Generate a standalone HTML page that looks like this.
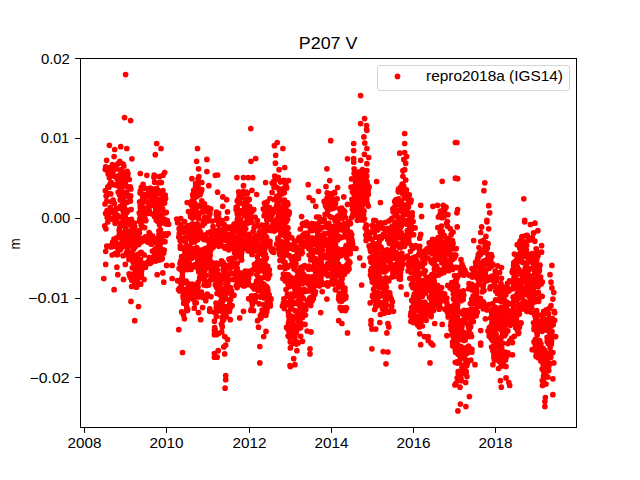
<!DOCTYPE html><html><head><meta charset="utf-8"><style>html,body{margin:0;padding:0;background:#fff;width:640px;height:480px;overflow:hidden}svg{display:block}</style></head><body><svg width="640" height="480" viewBox="0 0 640 480"><path fill="none" stroke="#f00" stroke-width="5.7" stroke-linecap="round" d="M352.4 192.0h0M245.7 272.5h0M295.8 332.9h0M381.7 267.5h0M283.5 203.8h0M515.0 282.2h0M319.6 235.0h0M265.7 258.1h0M146.1 263.4h0M440.6 296.6h0M302.7 246.6h0M360.7 219.9h0M445.4 259.0h0M513.2 302.4h0M191.8 242.4h0M105.3 169.4h0M423.6 310.0h0M222.7 320.7h0M331.9 196.8h0M234.6 246.4h0M527.2 235.4h0M456.8 361.9h0M221.5 245.7h0M363.2 202.8h0M532.4 237.8h0M293.9 249.3h0M321.1 272.9h0M315.0 258.3h0M537.3 293.2h0M347.3 271.3h0M275.5 179.8h0M216.3 214.9h0M517.8 270.1h0M115.5 168.1h0M383.8 295.0h0M477.7 258.1h0M369.1 186.9h0M137.6 284.3h0M299.5 297.6h0M392.5 235.2h0M156.1 215.7h0M376.8 299.3h0M145.5 188.4h0M471.9 316.8h0M549.3 328.5h0M197.5 284.3h0M248.5 213.6h0M433.8 253.7h0M184.2 237.9h0M528.4 240.4h0M456.6 293.4h0M251.9 248.8h0M193.3 201.0h0M398.2 226.6h0M421.1 292.3h0M436.9 287.4h0M394.2 207.5h0M297.2 312.3h0M321.3 262.5h0M237.0 257.1h0M239.5 232.1h0M496.4 288.4h0M519.1 260.6h0M195.1 216.5h0M287.0 241.6h0M381.1 304.7h0M492.9 277.5h0M386.8 304.9h0M457.1 346.1h0M519.8 247.9h0M286.5 221.2h0M163.8 220.7h0M397.4 222.4h0M438.4 259.1h0M524.3 301.0h0M387.8 239.8h0M291.5 319.5h0M513.4 319.2h0M152.6 205.5h0M547.2 340.8h0M297.7 288.1h0M304.6 243.7h0M221.2 304.1h0M319.5 252.8h0M236.3 207.0h0M209.3 263.1h0M452.4 332.6h0M463.9 271.0h0M295.3 342.0h0M362.3 197.3h0M335.0 220.6h0M372.2 269.4h0M343.0 307.9h0M419.5 250.0h0M398.9 277.4h0M375.7 300.9h0M308.2 284.1h0M351.9 199.3h0M527.2 273.0h0M245.2 202.1h0M248.7 298.7h0M127.9 173.3h0M265.7 287.9h0M448.2 317.0h0M497.3 340.3h0M534.0 329.4h0M396.6 222.5h0M402.1 256.4h0M434.7 302.6h0M329.9 216.6h0M467.5 363.6h0M494.5 329.0h0M332.3 241.2h0M114.5 218.5h0M329.9 259.6h0M341.4 272.4h0M550.1 320.0h0M514.1 280.7h0M524.8 273.1h0M319.8 268.2h0M225.7 239.9h0M264.2 258.9h0M223.6 314.2h0M454.7 293.3h0M122.4 209.0h0M332.5 275.6h0M336.9 260.0h0M460.3 291.7h0M152.7 236.0h0M449.1 241.4h0M519.5 324.2h0M362.1 189.8h0M514.6 319.5h0M280.4 207.9h0M217.6 280.8h0M396.7 255.4h0M441.8 248.7h0M343.4 225.0h0M273.9 182.8h0M116.3 219.0h0M278.6 248.9h0M423.4 316.7h0M366.7 176.2h0M130.8 274.5h0M419.2 304.8h0M531.3 307.7h0M301.9 304.4h0M382.7 255.5h0M380.9 226.4h0M333.0 253.4h0M352.6 243.6h0M134.7 267.8h0M447.3 305.1h0M481.0 271.6h0M424.6 314.7h0M296.0 278.5h0M531.1 239.6h0M492.4 346.8h0M492.7 264.0h0M545.6 328.5h0M158.7 182.8h0M289.9 265.7h0M434.2 281.2h0M254.4 264.5h0M442.1 270.8h0M449.0 247.4h0M441.6 287.6h0M199.6 271.2h0M417.6 316.3h0M531.9 278.4h0M494.4 353.3h0M195.8 214.7h0M243.9 285.6h0M291.6 308.2h0M377.3 298.7h0M408.5 265.5h0M271.2 250.1h0M108.2 218.5h0M206.8 219.2h0M131.4 224.6h0M113.1 219.6h0M288.9 304.6h0M249.7 206.7h0M526.0 265.1h0M179.3 233.3h0M516.4 272.4h0M140.2 270.0h0M187.5 269.6h0M120.4 244.6h0M280.8 233.9h0M456.4 338.2h0M502.1 355.7h0M159.8 253.8h0M198.7 183.3h0M191.2 224.8h0M513.6 265.9h0M345.1 233.8h0M196.4 190.5h0M298.7 277.9h0M342.4 229.0h0M476.7 304.6h0M292.5 283.4h0M246.1 242.1h0M501.9 321.3h0M287.0 215.7h0M360.3 206.4h0M249.4 234.3h0M401.3 232.8h0M274.0 199.4h0M221.8 279.5h0M444.6 293.9h0M185.5 242.0h0M361.9 206.9h0M358.3 173.7h0M194.7 242.0h0M370.9 262.1h0M123.3 211.9h0M139.1 233.4h0M404.9 212.7h0M502.0 293.4h0M439.0 243.4h0M203.3 204.4h0M222.1 302.5h0M336.0 235.4h0M544.2 354.3h0M262.2 310.1h0M513.1 319.2h0M189.3 247.8h0M340.2 273.0h0M184.5 250.6h0M197.3 223.8h0M457.8 325.8h0M328.2 193.4h0M286.9 274.7h0M419.5 281.8h0M377.3 267.4h0M302.7 242.2h0M340.8 237.7h0M412.9 300.0h0M422.3 303.7h0M326.9 283.4h0M399.9 233.7h0M384.2 285.1h0M293.4 245.4h0M182.2 268.4h0M136.5 237.4h0M341.3 217.5h0M315.3 266.7h0M285.6 241.5h0M279.9 216.9h0M362.9 210.8h0M189.1 246.0h0M228.1 239.5h0M227.6 290.8h0M487.4 280.6h0M484.3 260.9h0M218.5 282.5h0M282.6 212.0h0M406.9 205.1h0M374.2 243.9h0M486.0 264.0h0M131.0 223.4h0M220.2 283.6h0M331.3 204.5h0M213.2 247.3h0M126.6 179.5h0M480.7 241.6h0M469.5 336.6h0M156.2 200.3h0M198.9 176.6h0M200.1 194.7h0M355.5 214.5h0M417.1 307.7h0M285.0 262.4h0M200.0 231.4h0M446.0 300.9h0M431.1 261.7h0M535.3 345.3h0M188.2 285.8h0M509.7 303.9h0M498.8 322.9h0M155.7 210.4h0M283.4 214.0h0M542.3 281.9h0M198.0 179.1h0M316.8 250.6h0M422.3 255.1h0M359.2 178.6h0M210.2 244.9h0M292.6 260.8h0M222.0 220.7h0M362.9 219.9h0M322.3 227.6h0M505.4 354.7h0M435.7 295.1h0M458.2 276.1h0M288.6 312.0h0M280.6 250.0h0M450.0 312.7h0M418.2 289.2h0M499.8 360.4h0M153.9 177.2h0M125.2 216.9h0M448.9 266.6h0M367.3 203.7h0M241.3 254.2h0M203.0 297.4h0M497.8 326.1h0M335.4 263.4h0M521.1 297.6h0M199.4 266.4h0M222.8 300.9h0M321.7 252.6h0M335.5 251.3h0M192.7 194.5h0M294.3 341.9h0M168.2 233.6h0M536.6 319.8h0M316.1 228.6h0M281.8 220.6h0M141.7 270.4h0M202.7 295.8h0M478.6 256.8h0M181.1 270.1h0M505.2 305.2h0M318.6 247.1h0M395.9 243.1h0M511.8 314.4h0M527.8 236.6h0M297.6 318.4h0M432.5 283.0h0M107.8 186.9h0M458.1 363.1h0M352.2 240.6h0M227.9 245.8h0M187.8 288.5h0M125.7 178.1h0M228.7 249.8h0M158.9 257.6h0M408.9 215.1h0M483.4 302.8h0M466.2 372.2h0M550.2 363.7h0M236.7 267.5h0M433.5 239.6h0M282.9 260.9h0M519.0 269.5h0M542.7 362.5h0M198.9 206.3h0M463.7 275.2h0M337.9 255.3h0M455.3 350.5h0M271.0 298.9h0M206.1 275.3h0M137.9 256.7h0M532.4 280.1h0M154.1 189.2h0M338.8 287.1h0M441.3 271.9h0M253.2 231.7h0M517.7 325.1h0M532.7 283.0h0M334.7 244.7h0M248.7 248.8h0M374.7 309.5h0M450.5 264.0h0M452.6 345.8h0M124.8 232.1h0M500.4 294.4h0M342.6 271.9h0M229.6 246.2h0M512.1 319.3h0M266.6 237.1h0M180.0 231.1h0M457.2 377.8h0M408.8 258.6h0M388.6 296.2h0M375.2 276.1h0M442.6 300.5h0M348.7 250.2h0M433.8 278.2h0M348.1 262.4h0M438.5 269.9h0M264.9 248.7h0M120.1 234.7h0M448.1 267.7h0M542.1 331.3h0M119.3 234.5h0M454.5 275.5h0M350.1 250.6h0M273.0 249.2h0M377.2 226.3h0M313.7 240.7h0M176.7 219.0h0M159.3 213.7h0M419.7 303.4h0M332.5 230.3h0M515.5 320.0h0M266.1 267.2h0M453.2 330.5h0M394.8 208.4h0M339.4 297.4h0M184.3 231.6h0M150.1 234.5h0M139.6 201.8h0M217.0 275.0h0M121.8 179.9h0M313.3 227.5h0M128.2 255.6h0M496.6 329.0h0M540.0 279.0h0M141.4 274.5h0M416.5 274.4h0M517.6 330.8h0M264.6 242.3h0M262.1 266.3h0M253.6 310.6h0M279.2 228.9h0M361.7 200.5h0M105.0 204.0h0M320.2 219.3h0M351.0 187.1h0M288.6 336.2h0M351.6 178.9h0M256.6 285.9h0M334.6 268.5h0M216.4 316.5h0M288.1 335.8h0M537.8 300.0h0M290.6 316.0h0M407.5 256.2h0M220.0 286.6h0M317.8 268.7h0M358.1 216.9h0M303.2 223.3h0M481.2 265.7h0M489.1 305.0h0M421.7 302.7h0M346.6 257.6h0M346.4 245.3h0M312.5 283.7h0M153.3 257.2h0M522.5 271.8h0M198.2 282.2h0M258.5 285.4h0M375.2 300.1h0M486.7 260.6h0M378.9 278.5h0M539.2 315.0h0M285.7 233.1h0M514.3 300.8h0M277.9 244.7h0M535.6 348.3h0M266.9 299.3h0M327.0 273.8h0M484.0 290.5h0M378.3 265.8h0M198.8 228.8h0M284.5 200.0h0M441.5 226.0h0M441.4 234.6h0M432.0 248.9h0M366.2 224.8h0M334.2 218.1h0M372.5 296.6h0M313.7 259.1h0M440.3 239.0h0M375.4 277.7h0M145.4 265.2h0M125.1 196.2h0M441.4 214.4h0M300.3 307.1h0M527.0 308.0h0M503.0 293.9h0M227.9 282.6h0M264.3 242.3h0M311.5 269.0h0M161.7 233.6h0M147.7 239.2h0M107.0 210.5h0M397.5 259.0h0M254.3 300.9h0M534.2 327.3h0M256.6 285.3h0M298.3 321.0h0M206.9 240.0h0M330.8 241.6h0M239.8 233.6h0M291.1 327.6h0M264.0 286.4h0M402.7 244.6h0M257.8 243.5h0M249.9 209.2h0M129.9 231.0h0M279.2 223.9h0M476.3 299.7h0M203.3 210.1h0M288.8 214.3h0M340.3 308.5h0M502.2 366.0h0M424.8 309.2h0M437.6 259.2h0M534.7 273.4h0M216.0 303.1h0M126.2 180.2h0M272.1 183.1h0M184.7 297.6h0M108.2 215.3h0M152.5 189.1h0M301.1 269.0h0M351.5 238.1h0M234.1 224.2h0M317.1 226.7h0M122.2 177.7h0M370.7 270.7h0M401.4 255.5h0M346.6 308.1h0M185.0 300.9h0M292.9 327.5h0M319.3 222.3h0M260.1 318.6h0M397.3 231.5h0M195.1 288.6h0M385.4 309.1h0M488.9 304.7h0M185.0 252.4h0M232.1 305.5h0M357.9 199.9h0M238.8 251.2h0M324.3 221.8h0M237.8 252.6h0M387.9 279.7h0M375.6 278.3h0M133.2 273.9h0M155.5 196.9h0M340.0 293.3h0M123.1 232.7h0M445.6 247.1h0M358.0 175.3h0M333.7 240.5h0M427.6 288.9h0M287.0 244.3h0M145.2 196.3h0M545.8 374.5h0M464.1 310.3h0M204.5 217.6h0M455.8 350.7h0M114.0 212.8h0M413.9 295.8h0M192.8 252.3h0M465.3 317.6h0M141.5 241.8h0M118.6 208.3h0M463.3 271.9h0M371.5 268.4h0M124.6 237.5h0M158.4 204.6h0M495.6 299.8h0M288.9 282.1h0M376.4 283.0h0M296.4 311.0h0M294.1 269.0h0M412.9 306.7h0M503.6 364.9h0M159.5 176.7h0M373.6 289.2h0M301.5 244.1h0M215.7 272.3h0M485.2 274.3h0M493.6 332.1h0M188.0 251.2h0M124.5 209.2h0M305.8 309.6h0M400.4 218.9h0M323.3 268.3h0M460.5 312.0h0M259.1 232.6h0M302.5 316.9h0M306.6 277.3h0M544.3 383.1h0M418.3 320.4h0M266.3 306.5h0M460.9 380.5h0M119.7 227.4h0M433.9 274.4h0M219.5 230.7h0M483.7 302.3h0M433.4 310.4h0M544.6 356.5h0M404.2 188.3h0M248.5 248.7h0M180.4 248.2h0M431.1 316.6h0M485.1 245.9h0M537.6 331.3h0M489.2 268.2h0M260.8 282.7h0M453.8 337.8h0M202.4 264.5h0M324.7 255.6h0M536.7 310.7h0M184.9 227.5h0M409.8 278.3h0M317.2 251.9h0M223.6 278.0h0M238.1 239.1h0M423.1 280.9h0M448.5 238.7h0M168.6 224.2h0M302.3 316.5h0M300.6 238.1h0M471.3 303.0h0M425.2 313.2h0M240.2 240.4h0M345.2 250.1h0M462.7 365.6h0M468.6 288.7h0M301.7 283.7h0M297.3 252.9h0M136.3 287.2h0M191.3 267.0h0M237.6 218.0h0M448.7 270.7h0M186.8 255.5h0M504.1 287.3h0M305.7 266.6h0M337.6 268.1h0M237.4 263.1h0M547.7 377.1h0M185.6 282.2h0M469.0 283.7h0M180.3 231.5h0M116.5 214.5h0M432.9 292.7h0M474.1 271.1h0M485.4 246.7h0M524.8 279.9h0M144.1 194.6h0M221.3 278.8h0M453.4 284.7h0M429.7 282.2h0M301.6 295.5h0M189.7 235.6h0M390.5 251.4h0M253.7 243.1h0M386.9 270.0h0M222.9 296.0h0M163.6 200.8h0M350.3 253.7h0M437.6 285.3h0M205.0 260.7h0M206.4 285.5h0M117.2 254.7h0M193.6 202.0h0M514.6 296.4h0M500.8 307.6h0M123.6 234.4h0M154.6 182.2h0M454.9 385.0h0M532.6 292.4h0M245.0 208.2h0M254.0 288.8h0M491.7 325.3h0M364.8 176.2h0M373.6 230.0h0M244.3 215.7h0M147.9 261.9h0M223.9 224.5h0M122.2 205.2h0M333.4 227.4h0M329.4 265.6h0M542.8 322.7h0M327.7 263.7h0M309.1 278.7h0M342.2 229.9h0M111.0 184.8h0M257.2 262.0h0M222.1 317.4h0M389.6 256.7h0M441.8 213.3h0M448.5 316.4h0M398.2 191.3h0M501.5 353.9h0M163.0 175.2h0M348.5 224.5h0M147.1 208.2h0M108.9 167.8h0M332.4 279.8h0M536.7 346.2h0M356.3 207.2h0M162.9 195.3h0M475.8 310.8h0M474.5 290.9h0M181.6 240.3h0M106.7 169.9h0M320.0 229.3h0M317.6 234.0h0M105.9 228.8h0M428.8 277.6h0M543.5 381.4h0M110.3 194.0h0M462.1 273.3h0M460.4 272.9h0M536.7 251.1h0M401.4 206.2h0M475.9 290.9h0M189.2 237.3h0M360.6 176.8h0M127.2 245.2h0M264.7 272.2h0M465.2 273.7h0M312.2 267.9h0M336.2 249.1h0M256.3 244.3h0M517.1 293.8h0M518.2 257.0h0M116.1 168.9h0M448.6 249.3h0M267.9 290.6h0M461.1 338.6h0M332.0 281.1h0M391.9 258.6h0M513.4 305.3h0M400.7 261.4h0M290.1 335.6h0M522.2 262.0h0M489.0 259.2h0M203.0 274.6h0M539.7 347.1h0M534.5 279.8h0M472.7 321.6h0M282.4 306.1h0M197.6 239.8h0M129.0 259.4h0M239.7 237.5h0M140.1 214.9h0M114.8 176.3h0M344.3 228.3h0M203.5 223.1h0M226.2 240.4h0M512.2 272.2h0M285.3 266.8h0M390.4 298.8h0M193.1 239.5h0M344.7 211.4h0M312.0 239.4h0M287.5 294.2h0M413.4 322.6h0M438.7 275.0h0M377.3 256.7h0M350.0 233.2h0M534.6 286.7h0M407.1 209.4h0M333.4 200.5h0M521.7 253.5h0M185.0 255.4h0M331.6 264.4h0M291.2 258.2h0M396.1 199.7h0M200.5 252.3h0M527.9 291.0h0M391.8 253.7h0M362.4 216.4h0M205.7 275.4h0M460.6 333.1h0M535.5 271.0h0M220.7 241.1h0M420.2 264.1h0M546.2 330.1h0M321.5 281.9h0M230.3 247.6h0M364.8 188.8h0M450.0 287.8h0M224.2 267.8h0M242.6 245.0h0M324.1 201.4h0M231.2 266.4h0M185.1 227.6h0M160.7 238.0h0M217.9 273.9h0M184.9 247.7h0M371.4 276.1h0M278.0 228.8h0M470.4 303.5h0M366.1 240.4h0M229.7 241.9h0M378.7 224.6h0M477.4 312.0h0M433.4 277.8h0M397.3 258.4h0M440.7 237.3h0M397.5 266.9h0M335.6 282.2h0M337.3 250.5h0M538.4 292.4h0M130.6 252.9h0M164.8 219.6h0M491.9 332.1h0M284.1 217.6h0M423.1 306.5h0M110.9 182.6h0M543.6 375.5h0M513.7 279.1h0M279.4 241.4h0M380.1 255.6h0M226.6 236.4h0M513.9 269.4h0M188.2 296.4h0M320.4 260.6h0M493.5 285.6h0M153.2 191.9h0M521.8 236.9h0M442.9 247.9h0M421.4 321.0h0M378.8 275.4h0M519.9 280.5h0M249.1 199.0h0M415.3 301.3h0M293.3 343.4h0M472.0 268.7h0M417.6 305.8h0M510.7 281.2h0M386.9 252.5h0M148.8 240.7h0M378.5 257.9h0M263.6 226.3h0M120.2 199.9h0M203.1 271.6h0M258.5 226.1h0M160.7 205.7h0M138.9 274.7h0M142.7 198.3h0M310.8 230.5h0M302.1 297.0h0M180.6 261.4h0M343.4 212.1h0M433.2 301.4h0M408.3 200.3h0M159.0 234.5h0M396.9 258.2h0M184.0 262.1h0M120.4 206.3h0M424.0 273.1h0M471.8 284.4h0M284.5 243.5h0M535.6 320.9h0M278.2 177.4h0M326.7 265.5h0M431.1 311.2h0M483.2 308.7h0M340.4 254.4h0M431.1 314.9h0M246.3 192.0h0M489.2 335.9h0M136.7 259.7h0M195.8 249.1h0M335.8 280.7h0M229.7 228.7h0M478.6 306.3h0M137.3 269.5h0M309.6 246.7h0M192.8 249.0h0M394.8 224.3h0M243.2 191.7h0M502.0 301.3h0M154.2 175.0h0M426.3 251.9h0M507.8 330.9h0M248.1 250.8h0M458.2 299.4h0M298.2 281.4h0M525.7 235.6h0M338.5 264.1h0M376.1 278.3h0M119.3 175.0h0M319.5 285.9h0M449.5 245.6h0M192.8 208.3h0M264.1 298.0h0M521.8 238.3h0M236.2 285.6h0M518.6 327.6h0M462.7 314.0h0M262.6 250.9h0M373.3 277.1h0M331.4 282.0h0M232.9 295.5h0M337.7 283.1h0M324.2 219.0h0M126.8 192.2h0M495.3 271.2h0M456.0 332.2h0M499.3 349.8h0M421.0 287.1h0M285.6 236.9h0M456.0 383.1h0M150.7 202.0h0M241.5 197.2h0M514.8 261.8h0M270.0 302.2h0M157.1 220.9h0M412.4 221.3h0M287.9 204.4h0M293.9 244.4h0M388.1 299.0h0M372.2 274.9h0M140.5 259.5h0M282.0 244.1h0M468.5 352.0h0M419.1 275.3h0M265.1 212.5h0M445.2 252.7h0M127.8 233.8h0M255.6 245.2h0M409.7 263.8h0M460.9 377.8h0M432.7 283.8h0M320.6 274.9h0M476.2 315.8h0M521.5 245.2h0M453.5 298.9h0M325.5 257.1h0M289.5 337.2h0M281.5 245.4h0M442.0 297.2h0M188.7 227.6h0M438.7 243.8h0M522.8 292.9h0M513.7 262.8h0M534.7 313.5h0M358.2 214.3h0M467.1 311.5h0M199.9 294.3h0M543.7 311.4h0M128.5 210.3h0M225.0 289.5h0M139.3 212.8h0M269.9 244.7h0M267.0 297.0h0M355.8 172.4h0M330.3 231.5h0M252.3 286.6h0M383.5 267.6h0M528.1 254.3h0M496.1 334.3h0M402.2 211.4h0M279.2 247.0h0M277.4 179.3h0M447.4 221.5h0M123.9 166.0h0M198.9 251.9h0M434.8 260.7h0M193.7 239.9h0M473.4 321.5h0M496.4 275.7h0M305.5 223.2h0M539.3 328.9h0M520.6 309.2h0M292.4 327.2h0M524.1 249.7h0M495.5 307.4h0M472.7 287.1h0M288.0 228.1h0M524.7 303.2h0M203.9 239.6h0M132.3 243.1h0M297.0 271.0h0M149.2 257.5h0M498.0 342.4h0M251.4 247.1h0M186.3 302.9h0M333.1 208.3h0M422.4 296.2h0M397.4 232.2h0M495.2 308.0h0M186.2 290.3h0M358.7 172.5h0M234.9 236.9h0M512.1 320.2h0M413.1 260.6h0M273.3 209.6h0M197.6 261.9h0M414.8 267.1h0M474.5 274.3h0M227.9 310.3h0M346.0 246.2h0M532.1 297.2h0M537.5 276.7h0M334.8 240.7h0M491.6 347.1h0M466.2 310.8h0M501.7 347.8h0M222.1 311.3h0M524.1 294.7h0M391.6 232.8h0M373.8 300.5h0M205.8 300.7h0M377.0 304.4h0M500.5 288.5h0M421.5 284.5h0M366.7 198.9h0M519.5 327.3h0M350.6 232.4h0M289.3 329.6h0M452.7 259.2h0M427.6 290.4h0M201.4 292.0h0M239.4 227.4h0M388.9 280.8h0M544.4 358.5h0M347.5 223.1h0M242.7 223.3h0M221.0 308.4h0M164.0 250.2h0M452.9 323.7h0M452.4 240.5h0M267.3 308.2h0M224.4 315.7h0M530.8 312.1h0M224.0 272.7h0M220.2 294.9h0M448.4 314.5h0M437.0 275.2h0M218.5 217.7h0M119.2 229.8h0M516.1 326.0h0M384.1 304.7h0M260.5 247.1h0M363.2 175.2h0M420.9 290.9h0M307.1 300.5h0M281.2 189.2h0M193.2 230.6h0M407.2 224.3h0M388.1 230.7h0M313.2 293.5h0M138.7 244.4h0M397.4 210.0h0M234.0 295.2h0M496.6 346.1h0M159.3 252.9h0M438.7 227.8h0M376.5 229.2h0M389.0 311.2h0M355.8 195.4h0M302.7 291.3h0M341.0 208.8h0M131.6 286.5h0M338.0 257.5h0M380.8 305.0h0M437.8 227.5h0M204.6 259.7h0M354.1 194.6h0M507.3 288.7h0M455.6 352.2h0M501.2 324.8h0M404.5 246.3h0M341.8 294.9h0M132.2 277.5h0M314.0 244.2h0M453.6 306.5h0M356.6 215.3h0M481.0 252.8h0M366.7 199.8h0M244.7 285.7h0M332.4 229.9h0M475.8 272.6h0M140.7 222.1h0M267.4 228.6h0M450.2 228.7h0M223.3 233.4h0M356.1 180.7h0M400.4 227.5h0M476.6 289.8h0M411.1 272.5h0M383.7 264.6h0M409.6 214.4h0M418.8 265.7h0M434.7 249.4h0M447.5 226.2h0M525.2 268.3h0M444.1 236.5h0M354.6 186.2h0M265.2 287.1h0M130.3 186.9h0M512.1 321.2h0M536.2 248.9h0M140.8 192.4h0M296.2 296.0h0M457.8 267.7h0M537.5 348.9h0M377.9 251.0h0M444.3 235.4h0M197.6 289.3h0M328.4 240.3h0M314.0 223.8h0M341.4 253.6h0M283.3 303.3h0M293.5 263.0h0M111.2 245.3h0M212.6 266.0h0M343.0 237.0h0M436.8 250.8h0M319.1 217.2h0M379.6 240.7h0M251.1 273.7h0M138.0 236.3h0M285.8 229.7h0M465.3 354.1h0M192.8 237.3h0M114.2 243.6h0M330.1 267.2h0M371.1 273.7h0M126.8 212.4h0M493.9 354.9h0M328.3 233.4h0M342.9 227.2h0M452.9 310.8h0M496.8 360.0h0M216.5 220.1h0M297.6 240.8h0M416.1 291.4h0M488.1 243.7h0M346.7 265.2h0M287.0 275.9h0M340.4 211.8h0M345.6 234.1h0M452.0 288.6h0M251.0 241.9h0M177.6 222.7h0M413.6 234.7h0M140.7 284.2h0M363.9 190.2h0M356.3 178.5h0M252.3 211.3h0M219.0 243.0h0M544.1 352.7h0M210.2 255.1h0M522.8 262.4h0M495.6 359.4h0M295.3 310.7h0M180.0 263.5h0M447.2 244.1h0M553.3 324.6h0M418.2 282.7h0M134.3 281.5h0M208.7 239.3h0M408.9 242.1h0M232.9 279.5h0M283.5 215.3h0M344.7 236.1h0M135.5 268.9h0M380.1 277.7h0M197.7 195.7h0M520.5 254.8h0M454.5 346.8h0M456.2 304.8h0M321.3 262.1h0M361.4 173.4h0M410.6 202.2h0M234.5 227.0h0M420.4 255.3h0M359.8 203.7h0M492.9 314.8h0M379.0 236.8h0M538.9 352.1h0M193.9 232.7h0M402.2 224.6h0M183.9 268.0h0M235.6 272.9h0M161.4 215.1h0M463.8 295.2h0M324.6 238.5h0M462.0 264.1h0M485.4 279.7h0M550.3 327.0h0M107.8 222.0h0M551.1 337.5h0M402.5 189.4h0M547.1 337.3h0M346.3 230.2h0M527.4 303.1h0M454.8 248.8h0M146.9 195.8h0M496.2 280.4h0M233.3 248.7h0M479.6 280.9h0M357.8 213.1h0M215.1 329.6h0M393.7 239.3h0M212.7 276.2h0M286.6 231.6h0M314.6 229.9h0M245.3 204.9h0M154.0 241.3h0M137.2 284.5h0M455.1 331.5h0M376.9 227.2h0M179.8 281.8h0M253.2 238.2h0M241.5 222.7h0M493.9 357.6h0M192.1 284.2h0M440.7 227.7h0M183.7 302.9h0M447.3 311.9h0M452.8 335.8h0M352.8 248.3h0M256.3 282.9h0M484.6 280.3h0M471.1 335.7h0M128.2 241.4h0M555.7 336.6h0M492.9 341.0h0M532.0 253.5h0M425.3 293.0h0M442.6 212.1h0M403.5 245.3h0M188.0 256.7h0M119.9 216.8h0M415.7 257.1h0M314.3 225.3h0M355.0 205.2h0M460.9 350.3h0M211.1 248.1h0M252.0 254.4h0M302.7 283.3h0M471.1 321.7h0M403.4 213.3h0M443.6 209.5h0M439.8 270.0h0M290.2 281.0h0M139.1 242.7h0M458.6 351.8h0M395.0 240.4h0M319.1 271.9h0M140.5 239.9h0M478.8 283.0h0M217.0 293.5h0M116.2 185.1h0M224.4 291.2h0M156.8 242.6h0M549.1 319.0h0M267.8 278.6h0M123.1 164.2h0M292.7 263.8h0M231.2 227.3h0M391.2 298.5h0M422.6 295.8h0M152.4 251.1h0M524.9 245.8h0M278.4 214.8h0M359.0 194.3h0M542.1 369.0h0M144.7 239.0h0M197.5 183.2h0M143.3 207.5h0M229.8 273.9h0M412.5 286.9h0M439.0 309.2h0M550.6 337.8h0M201.0 191.9h0M422.7 312.3h0M285.0 265.6h0M320.6 240.6h0M300.8 323.1h0M191.7 228.3h0M141.3 187.4h0M275.2 220.8h0M312.4 291.4h0M344.4 274.2h0M223.7 319.5h0M312.3 254.0h0M281.2 248.1h0M129.8 276.1h0M306.6 233.1h0M342.8 254.3h0M531.0 276.6h0M373.1 243.2h0M214.5 239.1h0M228.1 279.2h0M302.1 243.8h0M126.5 252.7h0M113.2 200.0h0M112.4 164.7h0M460.6 328.0h0M393.3 268.8h0M427.9 289.3h0M353.7 200.5h0M495.9 358.2h0M533.8 283.3h0M235.0 244.0h0M431.9 253.7h0M237.7 228.9h0M313.4 278.3h0M457.1 287.2h0M151.4 259.1h0M504.9 352.2h0M450.2 254.7h0M517.4 313.6h0M326.1 268.0h0M207.9 207.8h0M520.4 282.5h0M187.9 290.5h0M411.4 229.8h0M522.0 303.5h0M384.8 250.9h0M264.3 287.2h0M430.6 290.1h0M383.0 252.6h0M422.2 266.7h0M156.7 188.4h0M293.0 316.6h0M160.3 199.2h0M106.3 169.7h0M221.7 331.9h0M225.3 315.4h0M412.6 301.2h0M260.3 253.1h0M182.3 276.9h0M263.4 304.6h0M369.1 237.7h0M442.8 300.1h0M238.2 213.6h0M347.3 250.9h0M430.5 305.0h0M118.3 176.6h0M419.1 310.6h0M314.6 238.6h0M159.5 216.1h0M369.4 233.6h0M402.5 260.0h0M439.2 250.7h0M124.8 216.0h0M535.5 284.6h0M180.3 245.9h0M453.6 291.7h0M130.4 201.1h0M203.4 249.7h0M292.3 301.7h0M433.0 259.9h0M354.2 211.6h0M438.0 294.5h0M426.0 306.7h0M193.2 299.3h0M160.7 201.0h0M280.2 224.4h0M270.0 241.3h0M452.5 342.2h0M201.9 182.5h0M262.1 286.5h0M308.0 237.7h0M486.0 251.5h0M245.0 245.7h0M319.3 261.3h0M352.3 209.3h0M238.3 280.1h0M310.8 230.0h0M145.5 264.5h0M494.7 338.6h0M188.9 293.2h0M264.7 225.8h0M543.7 364.5h0M342.1 214.1h0M443.3 242.8h0M515.6 325.2h0M425.5 308.7h0M243.1 281.0h0M248.5 282.9h0M123.3 225.8h0M414.0 313.3h0M427.2 309.0h0M468.5 324.3h0M345.9 296.2h0M520.6 247.1h0M293.8 258.2h0M242.0 230.8h0M372.4 231.5h0M224.4 310.4h0M505.0 329.4h0M451.3 287.0h0M550.8 357.3h0M452.9 243.0h0M501.5 267.6h0M289.3 248.1h0M301.0 315.2h0M280.4 241.0h0M245.2 271.2h0M417.6 274.8h0M548.6 358.0h0M383.4 234.4h0M505.4 292.8h0M123.6 220.6h0M415.0 318.7h0M412.2 246.2h0M186.9 294.5h0M331.5 217.4h0M367.9 232.4h0M328.2 251.6h0M332.9 231.5h0M431.9 292.5h0M552.0 331.7h0M366.4 202.3h0M530.8 302.8h0M513.5 308.0h0M198.9 266.1h0M376.8 261.1h0M462.6 347.9h0M214.4 279.7h0M212.5 264.8h0M462.4 366.0h0M506.0 303.7h0M313.6 240.5h0M462.4 323.1h0M188.1 295.8h0M440.3 254.0h0M415.7 245.6h0M287.9 329.1h0M235.5 264.5h0M291.5 299.4h0M397.4 231.5h0M457.3 334.1h0M516.8 296.1h0M550.2 352.5h0M130.7 195.9h0M181.9 262.7h0M179.1 268.6h0M475.9 287.4h0M550.6 331.0h0M264.4 252.9h0M248.0 242.7h0M488.2 260.6h0M155.6 251.9h0M126.3 193.7h0M290.0 296.3h0M313.9 250.0h0M479.0 247.5h0M237.2 200.9h0M278.6 208.9h0M286.0 289.6h0M140.4 190.9h0M432.7 297.6h0M379.2 262.8h0M108.2 193.4h0M438.3 239.6h0M268.1 207.0h0M120.4 169.8h0M287.7 236.3h0M328.9 243.5h0M380.0 304.4h0M379.9 266.2h0M314.5 264.2h0M420.0 281.4h0M117.7 163.9h0M485.7 251.4h0M464.0 368.5h0M400.9 218.3h0M137.5 269.3h0M369.8 237.7h0M253.0 237.8h0M385.8 285.6h0M392.9 208.9h0M385.6 236.2h0M520.5 280.3h0M292.5 320.4h0M177.6 280.7h0M161.3 222.2h0M450.9 309.2h0M197.7 237.1h0M273.9 181.1h0M223.5 246.3h0M505.5 359.9h0M457.9 327.8h0M229.1 291.6h0M248.6 234.8h0M184.8 290.1h0M267.9 275.4h0M477.4 259.2h0M501.1 309.2h0M225.8 284.3h0M190.0 238.7h0M536.5 320.5h0M349.9 262.5h0M439.1 270.2h0M262.6 287.2h0M243.7 229.7h0M262.1 250.5h0M537.2 334.9h0M305.1 276.1h0M216.5 212.1h0M407.5 237.1h0M381.7 284.4h0M289.5 318.3h0M131.1 209.5h0M506.4 322.4h0M188.1 246.4h0M218.7 213.4h0M335.4 289.7h0M178.8 237.1h0M373.0 227.9h0M427.5 251.3h0M150.1 188.1h0M263.8 284.1h0M465.8 272.3h0M223.9 288.9h0M183.8 268.6h0M536.6 284.5h0M316.9 243.3h0M302.4 317.3h0M271.9 227.8h0M490.4 286.9h0M485.8 242.7h0M313.4 298.6h0M538.2 286.4h0M519.0 296.8h0M132.7 233.5h0M257.4 287.9h0M302.0 270.4h0M349.0 269.0h0M514.3 282.7h0M411.8 307.7h0M201.8 200.9h0M194.0 233.8h0M149.9 205.6h0M514.6 282.5h0M272.7 230.7h0M279.5 190.4h0M380.0 255.2h0M410.5 231.9h0M198.0 286.9h0M438.5 258.2h0M236.6 241.2h0M280.6 220.9h0M427.9 314.9h0M279.9 214.3h0M310.7 259.9h0M512.7 312.0h0M234.6 253.1h0M334.8 193.0h0M392.4 301.7h0M417.1 304.9h0M500.0 357.7h0M296.1 249.1h0M311.9 290.8h0M341.6 279.6h0M140.2 277.1h0M424.7 263.0h0M394.9 209.1h0M449.6 313.5h0M533.6 266.2h0M512.5 314.6h0M550.8 343.4h0M469.5 329.0h0M477.7 285.0h0M140.4 263.7h0M247.5 223.2h0M129.9 198.9h0M221.5 290.2h0M492.8 309.5h0M408.8 214.3h0M512.2 288.9h0M373.8 220.4h0M266.4 257.9h0M196.0 255.1h0M493.0 330.8h0M375.7 248.0h0M542.7 316.2h0M382.7 235.6h0M118.2 192.3h0M398.4 191.8h0M526.8 288.8h0M370.5 275.2h0M412.8 248.3h0M403.2 257.1h0M366.6 225.6h0M440.5 211.0h0M156.1 215.3h0M240.7 274.6h0M376.6 263.2h0M377.8 292.4h0M304.9 291.5h0M441.8 262.6h0M385.8 288.8h0M264.2 229.5h0M193.6 190.4h0M455.7 289.5h0M201.0 271.2h0M506.2 308.0h0M455.3 362.3h0M418.2 280.9h0M379.0 271.0h0M283.0 226.2h0M433.4 279.5h0M521.8 275.1h0M472.5 314.0h0M231.8 240.2h0M444.7 209.7h0M329.8 226.5h0M377.6 269.7h0M259.2 303.8h0M187.3 310.6h0M244.6 205.7h0M120.4 223.2h0M545.5 326.2h0M302.2 266.8h0M195.9 196.9h0M340.2 307.3h0M261.9 225.2h0M106.4 196.0h0M308.9 241.7h0M261.7 286.0h0M500.0 291.5h0M499.3 361.3h0M235.7 279.7h0M213.3 265.7h0M432.5 239.4h0M283.9 298.8h0M288.7 244.5h0M280.5 199.8h0M467.3 363.4h0M216.5 334.7h0M533.5 262.7h0M202.5 206.9h0M377.8 229.9h0M329.1 200.1h0M458.9 321.2h0M355.5 191.2h0M164.8 212.9h0M471.8 352.2h0M519.4 314.1h0M166.2 235.5h0M379.2 302.9h0M254.9 301.6h0M440.9 292.8h0M507.9 355.1h0M281.2 231.9h0M192.5 223.8h0M117.8 244.1h0M280.6 208.3h0M300.9 307.2h0M307.5 240.8h0M195.0 264.6h0M422.2 318.6h0M109.0 187.2h0M239.5 284.1h0M536.8 332.6h0M482.9 301.7h0M204.5 203.8h0M475.9 299.5h0M534.7 315.0h0M154.4 216.6h0M469.9 334.6h0M270.5 219.2h0M387.6 228.5h0M315.5 291.8h0M198.6 269.9h0M357.3 220.3h0M473.0 269.6h0M439.8 303.1h0M127.5 178.4h0M251.9 222.5h0M304.7 281.5h0M254.1 227.9h0M229.4 227.5h0M530.0 301.1h0M251.9 270.4h0M401.5 218.0h0M134.2 260.5h0M236.1 209.5h0M320.9 278.7h0M317.1 226.1h0M419.3 322.6h0M285.3 186.5h0M278.0 238.2h0M292.5 258.0h0M533.5 322.8h0M290.3 331.5h0M546.0 384.1h0M341.4 273.7h0M406.5 243.2h0M551.4 319.3h0M198.7 271.8h0M541.3 283.4h0M513.4 286.1h0M501.4 278.3h0M129.1 224.9h0M363.8 180.7h0M401.4 210.7h0M201.7 212.0h0M127.9 249.4h0M416.7 278.7h0M502.5 288.2h0M548.8 370.5h0M551.2 335.1h0M300.2 278.0h0M240.0 241.9h0M189.6 250.1h0M337.4 227.7h0M230.5 307.6h0M117.1 179.1h0M525.3 246.1h0M416.0 262.0h0M196.2 284.7h0M400.2 190.2h0M397.7 270.2h0M507.5 319.8h0M538.7 321.0h0M408.1 270.9h0M480.1 298.9h0M325.5 271.5h0M376.2 247.0h0M338.4 249.2h0M411.0 213.4h0M457.7 377.6h0M448.5 265.8h0M358.9 191.2h0M408.0 205.5h0M423.0 307.9h0M225.1 307.4h0M183.6 261.4h0M145.4 236.9h0M546.3 309.9h0M312.2 237.8h0M289.1 211.8h0M495.7 291.1h0M225.4 306.8h0M458.8 347.6h0M459.4 362.0h0M159.7 217.7h0M234.1 228.0h0M263.8 277.5h0M530.9 287.2h0M502.5 333.6h0M107.2 217.5h0M236.2 271.2h0M417.6 324.9h0M156.3 238.8h0M440.8 237.7h0M506.6 320.6h0M452.7 269.3h0M267.5 287.8h0M204.0 250.3h0M219.7 294.6h0M258.5 237.2h0M343.9 270.0h0M147.5 213.4h0M339.6 228.5h0M303.0 225.1h0M381.6 267.8h0M150.8 258.5h0M296.5 295.2h0M199.7 277.8h0M388.6 292.8h0M425.3 270.8h0M470.8 360.2h0M400.9 224.5h0M239.6 276.0h0M396.3 270.1h0M427.0 289.2h0M419.8 315.9h0M193.3 288.6h0M355.6 175.7h0M279.4 210.0h0M140.7 272.3h0M196.2 208.3h0M373.7 265.3h0M457.3 317.0h0M269.6 207.5h0M490.9 266.4h0M308.4 302.3h0M163.1 197.4h0M372.6 295.0h0M340.8 275.1h0M219.2 288.3h0M544.3 325.7h0M248.0 198.8h0M401.9 246.5h0M151.4 244.2h0M500.0 298.2h0M154.2 197.5h0M333.9 264.7h0M508.5 320.5h0M536.1 265.9h0M330.4 193.8h0M348.7 267.2h0M297.5 276.1h0M286.3 186.6h0M317.8 280.8h0M202.4 263.0h0M482.9 265.0h0M464.2 355.3h0M282.1 192.6h0M212.1 269.9h0M485.2 252.3h0M218.3 236.9h0M533.2 290.4h0M280.1 194.6h0M250.8 310.4h0M125.9 186.0h0M226.2 290.8h0M443.1 211.4h0M333.0 256.9h0M514.0 270.9h0M540.1 352.8h0M409.0 235.1h0M310.4 286.2h0M277.1 218.9h0M249.9 241.4h0M466.2 361.6h0M343.8 299.2h0M509.5 280.9h0M302.4 224.0h0M536.0 356.2h0M286.0 205.4h0M422.2 258.0h0M237.5 240.2h0M468.9 318.2h0M187.9 290.9h0M543.0 317.1h0M121.7 170.4h0M455.2 335.8h0M269.1 294.6h0M157.9 190.3h0M144.2 201.8h0M518.5 258.1h0M203.7 251.2h0M515.9 288.5h0M286.7 188.0h0M335.6 235.6h0M543.6 368.3h0M395.5 209.3h0M417.9 295.2h0M478.7 305.3h0M529.6 279.2h0M198.1 286.8h0M217.6 231.1h0M464.5 367.8h0M130.3 224.7h0M225.0 231.9h0M342.0 283.8h0M179.1 228.7h0M395.0 208.9h0M222.3 326.7h0M273.8 211.7h0M442.3 252.6h0M205.7 234.9h0M456.3 283.4h0M157.4 210.3h0M539.7 326.9h0M527.4 284.5h0M300.3 271.7h0M190.6 216.7h0M206.2 254.4h0M446.8 298.1h0M159.5 224.7h0M338.0 222.4h0M334.5 192.4h0M392.0 267.6h0M246.8 207.4h0M551.6 340.9h0M205.2 210.4h0M542.3 380.6h0M538.1 357.7h0M227.5 265.9h0M455.6 338.9h0M358.3 201.9h0M119.4 194.7h0M532.5 284.7h0M431.7 249.0h0M318.9 252.0h0M453.4 314.1h0M247.0 273.6h0M310.0 297.9h0M148.7 203.4h0M330.7 209.0h0M424.7 262.2h0M331.6 251.4h0M410.8 267.5h0M344.9 288.0h0M339.7 301.0h0M138.2 237.4h0M461.9 367.8h0M277.2 207.1h0M277.1 203.8h0M249.1 284.7h0M297.9 283.8h0M125.6 228.4h0M322.1 244.2h0M352.6 207.8h0M205.8 298.3h0M250.3 299.3h0M294.7 241.3h0M187.4 226.7h0M303.3 244.1h0M190.2 291.9h0M142.1 264.7h0M257.3 246.2h0M488.0 330.9h0M385.5 230.3h0M343.8 224.8h0M188.6 232.1h0M316.4 285.2h0M260.4 297.1h0M235.5 250.5h0M434.1 301.4h0M499.9 340.1h0M207.8 263.0h0M149.1 232.5h0M405.6 192.1h0M383.3 288.0h0M464.8 270.1h0M144.4 218.8h0M131.7 239.8h0M136.3 281.5h0M252.4 304.4h0M546.3 323.3h0M524.7 280.6h0M477.2 277.9h0M199.4 233.1h0M115.1 223.3h0M430.3 306.5h0M451.5 284.6h0M413.6 297.4h0M536.0 266.0h0M213.1 237.5h0M250.6 214.7h0M143.2 240.3h0M508.4 310.6h0M508.9 291.1h0M396.1 244.9h0M270.5 211.1h0M513.7 272.4h0M492.9 350.8h0M423.2 307.9h0M353.9 204.1h0M219.0 239.9h0M243.9 225.4h0M297.5 301.5h0M442.4 293.5h0M264.9 228.3h0M497.6 291.2h0M451.1 234.7h0M131.5 258.1h0M452.2 334.7h0M495.5 344.4h0M266.8 220.1h0M337.7 256.6h0M399.1 246.9h0M345.3 217.5h0M265.9 266.7h0M201.3 296.2h0M419.0 264.4h0M137.8 278.7h0M187.0 230.3h0M516.5 321.7h0M135.5 246.6h0M307.8 267.9h0M296.0 263.5h0M193.3 206.3h0M167.3 220.6h0M505.8 322.1h0M275.6 223.9h0M364.0 210.9h0M424.8 251.2h0M310.7 289.8h0M414.7 258.7h0M284.3 308.4h0M353.4 205.2h0M356.1 210.0h0M287.3 202.6h0M325.4 205.4h0M291.8 237.8h0M136.8 282.7h0M492.9 316.0h0M161.1 242.6h0M543.3 365.4h0M236.6 242.8h0M251.5 300.8h0M201.1 257.2h0M218.6 224.7h0M329.1 225.3h0M387.5 293.4h0M280.5 209.4h0M306.1 225.5h0M403.1 190.5h0M198.4 217.8h0M151.0 199.9h0M217.2 269.7h0M284.9 263.3h0M246.1 281.1h0M327.5 240.5h0M233.2 260.3h0M390.3 263.3h0M280.3 180.6h0M195.6 183.7h0M527.5 262.6h0M513.4 316.4h0M111.4 201.7h0M285.3 211.8h0M547.9 313.1h0M457.0 332.4h0M279.8 200.5h0M299.3 237.3h0M376.7 228.3h0M480.8 254.3h0M122.2 241.0h0M224.6 271.2h0M151.8 213.8h0M418.2 263.0h0M353.7 202.5h0M400.3 237.8h0M451.1 322.0h0M179.7 288.2h0M293.9 266.7h0M367.5 184.7h0M304.1 289.3h0M417.9 320.1h0M308.9 266.1h0M188.0 235.3h0M452.0 268.3h0M251.6 309.3h0M452.7 330.1h0M424.4 302.2h0M211.7 236.4h0M221.7 324.4h0M150.1 240.5h0M318.0 269.7h0M276.7 226.1h0M203.6 223.0h0M382.1 295.6h0M122.6 184.9h0M516.6 320.7h0M230.7 259.9h0M190.2 212.2h0M396.9 258.7h0M544.4 313.5h0M149.8 263.4h0M545.4 366.2h0M325.4 257.6h0M145.5 236.9h0M206.4 261.3h0M254.4 239.9h0M251.8 239.5h0M216.4 219.9h0M349.0 241.3h0M121.6 189.8h0M156.2 219.9h0M193.9 224.8h0M385.0 301.7h0M548.7 353.0h0M208.1 211.6h0M532.5 259.9h0M249.2 199.8h0M390.4 232.1h0M505.9 294.8h0M505.0 326.8h0M440.9 215.7h0M124.2 207.2h0M429.7 285.2h0M288.2 302.5h0M209.5 268.1h0M310.1 287.9h0M455.1 309.4h0M307.9 236.0h0M397.1 263.7h0M284.9 305.8h0M194.2 254.5h0M287.7 211.5h0M461.1 321.8h0M416.3 275.0h0M330.2 233.0h0M195.7 226.1h0M444.3 267.5h0M334.4 269.9h0M282.1 220.9h0M303.5 274.3h0M199.9 252.9h0M294.9 289.2h0M355.2 189.8h0M258.5 270.5h0M129.5 244.5h0M514.3 336.3h0M381.8 271.5h0M439.8 297.1h0M501.0 365.6h0M484.1 308.2h0M136.7 287.1h0M384.5 272.0h0M410.9 321.4h0M248.1 216.3h0M149.2 210.4h0M464.7 334.3h0M338.8 296.4h0M519.0 281.2h0M383.3 228.4h0M419.4 327.0h0M549.6 321.6h0M316.5 269.1h0M132.6 237.7h0M135.9 270.7h0M482.8 277.8h0M298.8 312.6h0M343.1 251.7h0M411.5 245.5h0M452.4 332.5h0M423.8 272.0h0M521.5 306.0h0M297.6 284.4h0M286.5 327.4h0M351.3 247.5h0M240.1 272.8h0M437.5 301.6h0M461.1 355.7h0M406.4 189.8h0M143.0 263.4h0M142.5 227.3h0M285.1 268.4h0M492.0 310.8h0M207.6 264.7h0M139.3 241.1h0M412.5 263.4h0M310.4 246.2h0M213.0 226.7h0M528.4 260.3h0M263.7 291.5h0M258.4 238.9h0M252.3 250.2h0M279.6 211.0h0M241.2 213.6h0M141.2 274.9h0M529.8 255.8h0M216.3 231.8h0M196.9 290.6h0M368.0 189.8h0M210.8 250.3h0M158.7 257.6h0M200.1 253.0h0M541.1 347.0h0M143.1 184.3h0M117.4 254.7h0M133.8 249.1h0M258.1 276.9h0M375.8 305.7h0M528.9 275.0h0M524.0 288.2h0M200.2 275.9h0M133.1 236.3h0M316.7 249.7h0M504.4 312.1h0M159.0 238.8h0M375.1 285.1h0M279.3 206.5h0M211.6 244.6h0M327.7 257.6h0M308.9 268.7h0M165.0 241.7h0M520.1 241.0h0M264.4 310.2h0M412.5 266.8h0M302.7 236.1h0M204.0 284.9h0M539.2 352.3h0M219.8 231.3h0M284.6 181.6h0M182.6 272.4h0M310.3 286.2h0M161.4 182.6h0M285.5 264.7h0M411.1 235.1h0M283.8 227.0h0M253.3 269.5h0M365.8 235.2h0M399.3 237.8h0M464.5 351.5h0M341.3 274.3h0M522.4 294.6h0M539.9 279.4h0M425.3 290.2h0M304.5 233.5h0M266.3 292.3h0M343.3 249.3h0M136.9 278.4h0M385.5 297.1h0M255.4 295.6h0M221.1 239.7h0M545.8 359.7h0M145.5 267.2h0M490.1 264.5h0M273.7 252.5h0M223.1 269.8h0M218.3 235.7h0M229.2 227.1h0M525.3 292.1h0M241.8 250.9h0M141.9 240.1h0M255.6 237.0h0M500.4 344.1h0M407.5 241.3h0M385.1 301.4h0M234.1 266.5h0M231.4 247.9h0M338.2 268.3h0M156.9 213.0h0M412.0 310.9h0M283.4 274.1h0M146.9 241.6h0M535.6 266.1h0M430.7 260.6h0M407.3 230.6h0M504.4 313.5h0M376.2 306.4h0M263.4 241.6h0M163.0 190.5h0M536.9 344.5h0M237.1 287.6h0M286.2 247.5h0M310.0 227.4h0M551.5 321.7h0M463.2 372.7h0M433.6 285.4h0M187.8 309.5h0M122.1 238.6h0M375.8 245.2h0M218.6 291.0h0M324.0 284.4h0M494.2 323.8h0M204.8 270.6h0M401.2 206.1h0M431.8 274.6h0M471.7 299.2h0M269.7 274.6h0M300.1 279.4h0M341.0 255.6h0M455.8 267.3h0M328.9 223.3h0M498.0 358.5h0M339.2 286.4h0M262.6 292.0h0M196.0 267.1h0M335.7 260.1h0M345.6 254.8h0M345.0 291.1h0M193.7 208.8h0M515.7 278.3h0M197.1 286.1h0M538.6 301.3h0M240.7 243.6h0M291.2 294.1h0M264.7 234.1h0M439.3 253.8h0M312.9 259.7h0M141.6 193.9h0M495.8 336.2h0M455.9 317.4h0M120.2 188.9h0M464.6 337.8h0M453.6 305.5h0M336.3 224.5h0M410.6 218.1h0M312.1 301.0h0M438.3 297.8h0M492.7 332.8h0M500.9 329.5h0M449.4 251.4h0M429.4 279.7h0M231.0 238.8h0M499.7 300.2h0M442.2 231.4h0M329.8 266.2h0M542.5 316.1h0M353.0 214.1h0M446.6 223.2h0M539.4 270.7h0M340.7 297.6h0M374.2 262.3h0M227.1 286.8h0M237.1 269.3h0M280.5 214.4h0M479.3 272.8h0M277.1 187.6h0M248.1 245.6h0M495.5 326.7h0M335.5 245.2h0M187.6 300.8h0M498.7 359.0h0M470.2 312.9h0M461.8 270.9h0M518.0 272.9h0M123.5 223.4h0M526.6 245.5h0M113.2 167.5h0M181.5 256.7h0M129.3 179.5h0M237.5 237.0h0M207.0 255.9h0M266.2 209.4h0M541.2 283.9h0M336.8 275.3h0M224.3 294.6h0M510.0 315.4h0M437.3 300.5h0M200.4 271.4h0M123.1 222.5h0M127.3 238.3h0M283.9 256.3h0M294.8 336.1h0M458.2 354.2h0M442.1 217.7h0M287.5 244.0h0M197.6 295.2h0M386.1 257.3h0M141.2 225.0h0M191.9 253.9h0M266.1 286.2h0M416.5 317.8h0M413.4 257.7h0M151.1 198.8h0M323.1 236.2h0M386.3 260.7h0M249.6 236.5h0M341.7 251.8h0M521.9 296.9h0M425.8 287.8h0M536.0 314.5h0M217.9 287.6h0M520.7 286.2h0M284.8 222.8h0M421.0 312.4h0M551.8 325.8h0M311.8 230.8h0M265.9 230.4h0M483.4 285.6h0M305.0 243.4h0M191.2 205.0h0M300.7 302.6h0M255.1 299.4h0M367.0 231.4h0M296.4 344.1h0M457.9 294.0h0M375.6 256.7h0M303.2 298.2h0M456.3 343.8h0M426.2 249.7h0M229.7 234.5h0M255.8 235.9h0M237.1 213.4h0M139.2 230.5h0M343.8 253.8h0M536.8 285.6h0M256.7 274.5h0M473.2 274.0h0M485.9 270.6h0M314.8 229.1h0M384.9 222.7h0M228.1 274.8h0M477.4 276.4h0M465.7 359.7h0M528.8 268.6h0M367.0 181.5h0M463.9 340.4h0M294.2 280.8h0M472.5 285.2h0M519.4 292.9h0M223.7 274.5h0M505.8 332.8h0M363.9 199.0h0M492.7 303.6h0M502.5 321.6h0M547.5 319.6h0M467.2 310.7h0M295.7 317.8h0M357.1 194.0h0M244.3 231.7h0M179.2 236.0h0M454.4 311.2h0M395.5 204.1h0M523.7 308.8h0M286.5 251.7h0M402.8 219.2h0M414.7 246.9h0M198.2 206.0h0M475.9 266.1h0M375.6 294.0h0M466.8 365.6h0M180.7 288.9h0M278.6 201.3h0M209.3 245.2h0M240.6 220.2h0M495.0 307.6h0M220.1 303.1h0M229.9 306.7h0M309.2 255.1h0M267.6 266.2h0M401.4 226.0h0M538.7 298.5h0M275.2 225.2h0M234.7 250.2h0M256.2 269.1h0M221.5 260.9h0M154.7 249.5h0M331.7 273.8h0M130.9 189.0h0M199.0 266.2h0M404.3 192.1h0M517.2 266.4h0M166.4 224.1h0M335.4 270.4h0M484.4 251.2h0M367.9 237.0h0M395.1 215.3h0M523.4 291.4h0M393.8 276.5h0M279.9 254.7h0M408.7 238.4h0M228.7 265.2h0M194.9 229.4h0M324.5 233.6h0M530.6 258.4h0M400.3 247.6h0M540.6 356.1h0M208.4 258.1h0M463.5 332.2h0M229.9 300.1h0M414.8 266.4h0M396.1 252.3h0M284.3 192.8h0M307.2 304.5h0M410.7 315.0h0M225.9 294.6h0M300.3 229.0h0M504.0 301.5h0M419.3 299.6h0M326.6 223.9h0M409.0 235.8h0M359.1 212.7h0M336.1 241.4h0M242.6 192.5h0M265.6 237.6h0M389.7 292.9h0M233.7 243.3h0M540.8 361.1h0M450.1 246.7h0M110.2 207.6h0M482.9 266.4h0M435.6 254.4h0M411.1 259.8h0M379.4 245.7h0M474.9 296.9h0M221.0 241.6h0M248.7 236.9h0M132.3 267.8h0M123.1 255.7h0M471.3 276.0h0M229.3 307.7h0M295.3 278.2h0M481.2 241.7h0M266.2 265.6h0M166.1 222.6h0M452.6 256.8h0M218.5 290.9h0M207.6 239.4h0M516.0 310.0h0M225.4 291.3h0M278.3 195.5h0M334.1 233.0h0M156.4 240.9h0M209.8 308.8h0M274.4 221.3h0M190.5 215.0h0M433.2 304.0h0M388.4 295.8h0M186.2 281.0h0M393.9 227.4h0M146.6 238.7h0M210.9 243.1h0M182.3 276.0h0M280.6 242.8h0M138.8 274.4h0M276.5 206.4h0M273.4 221.3h0M372.3 261.7h0M517.7 314.4h0M357.6 209.1h0M453.1 232.0h0M458.2 373.0h0M351.4 217.7h0M218.2 230.4h0M361.4 201.6h0M300.6 327.7h0M209.9 280.3h0M245.7 228.7h0M413.7 273.8h0M444.0 216.7h0M235.5 239.5h0M518.8 332.7h0M343.6 288.6h0M535.0 301.8h0M148.7 242.6h0M370.2 238.6h0M311.2 254.3h0M153.1 205.6h0M544.7 370.9h0M211.1 272.2h0M462.7 373.2h0M218.4 311.1h0M318.2 226.4h0M412.2 216.0h0M125.4 182.0h0M381.5 238.3h0M548.0 337.3h0M488.6 278.7h0M392.9 273.4h0M320.5 249.5h0M241.4 234.9h0M270.3 305.9h0M258.0 290.2h0M297.1 328.0h0M467.3 324.0h0M294.3 331.3h0M445.9 241.8h0M526.4 250.1h0M247.8 271.4h0M314.9 294.2h0M128.8 219.9h0M402.7 264.4h0M455.7 322.5h0M281.0 218.6h0M410.5 251.3h0M531.7 308.0h0M141.5 238.5h0M363.5 214.7h0M241.5 280.9h0M265.7 307.1h0M296.8 285.0h0M458.2 371.6h0M225.9 266.7h0M218.8 246.2h0M353.9 209.3h0M127.2 172.3h0M216.5 270.9h0M198.4 188.4h0M108.5 210.7h0M216.1 263.0h0M518.9 304.9h0M486.9 309.9h0M439.8 248.9h0M391.9 277.0h0M330.8 247.3h0M501.2 337.4h0M521.1 287.0h0M347.6 248.9h0M285.8 275.0h0M433.3 274.1h0M456.3 341.0h0M247.0 201.8h0M233.2 240.1h0M285.3 281.0h0M423.9 252.7h0M232.8 273.5h0M199.2 249.8h0M424.2 258.9h0M500.9 320.8h0M345.4 267.6h0M255.9 251.0h0M416.9 297.7h0M204.7 221.8h0M454.2 325.3h0M248.3 237.5h0M251.2 247.7h0M350.5 242.5h0M528.9 257.2h0M384.2 261.4h0M521.1 322.9h0M451.8 289.0h0M429.3 285.9h0M244.3 285.6h0M201.8 189.7h0M368.4 233.5h0M427.5 251.4h0M339.2 224.8h0M486.9 248.3h0M539.3 267.7h0M533.0 263.0h0M465.6 336.0h0M304.6 307.0h0M373.5 248.8h0M253.4 246.1h0M248.7 235.3h0M206.8 208.2h0M281.7 201.1h0M369.1 245.9h0M525.9 241.9h0M259.9 277.8h0M546.9 357.3h0M121.8 184.9h0M400.6 221.5h0M415.7 272.2h0M111.9 212.4h0M507.5 283.4h0M330.8 269.1h0M547.2 341.8h0M444.1 262.2h0M287.6 219.0h0M444.5 252.4h0M126.8 186.3h0M195.1 227.3h0M440.0 240.1h0M439.5 215.4h0M229.0 259.2h0M339.6 208.7h0M259.1 260.5h0M302.9 235.2h0M411.0 312.7h0M548.2 343.6h0M504.5 335.7h0M483.0 267.3h0M255.8 247.5h0M522.9 250.8h0M528.8 295.7h0M269.5 297.0h0M519.5 271.3h0M144.8 208.6h0M180.9 267.3h0M252.0 243.3h0M405.2 208.3h0M327.5 213.3h0M540.8 356.2h0M215.2 278.3h0M312.2 258.5h0M203.2 221.1h0M193.2 194.1h0M472.8 287.3h0M221.3 230.0h0M538.5 283.4h0M106.1 196.0h0M319.2 239.4h0M403.6 185.6h0M473.1 296.1h0M511.6 342.0h0M537.2 332.6h0M423.6 282.8h0M221.9 299.1h0M352.0 248.0h0M433.2 285.2h0M448.5 285.8h0M303.6 309.9h0M448.5 310.3h0M406.6 195.0h0M491.2 334.1h0M296.4 258.6h0M471.9 349.4h0M345.7 298.0h0M441.8 258.0h0M130.7 277.8h0M140.2 206.0h0M478.3 254.6h0M348.8 261.0h0M310.7 277.2h0M235.5 251.5h0M315.0 262.6h0M324.5 266.5h0M213.9 266.7h0M223.5 310.4h0M113.3 218.1h0M194.7 237.7h0M286.5 203.6h0M529.9 302.3h0M316.6 217.0h0M136.2 259.8h0M400.4 275.7h0M379.1 276.8h0M397.5 255.0h0M457.5 327.1h0M535.8 273.7h0M457.4 308.8h0M211.5 276.7h0M483.0 261.7h0M226.5 316.7h0M320.5 274.4h0M416.1 306.9h0M460.5 326.4h0M137.5 273.6h0M501.8 294.9h0M205.9 248.4h0M497.7 311.2h0M501.3 290.8h0M468.6 327.7h0M435.8 289.2h0M292.2 262.7h0M238.5 277.6h0M458.3 297.4h0M395.3 258.1h0M310.7 299.4h0M348.4 263.7h0M241.3 256.2h0M317.0 241.7h0M396.6 236.6h0M460.4 349.8h0M274.8 227.2h0M398.6 257.2h0M465.7 363.6h0M232.2 265.0h0M461.5 380.7h0M515.8 284.5h0M335.1 277.2h0M309.9 281.2h0M143.1 213.3h0M454.2 316.9h0M356.3 175.5h0M299.6 295.0h0M120.3 177.2h0M122.2 192.2h0M158.0 190.4h0M447.8 285.4h0M326.6 207.5h0M140.3 261.6h0M209.2 215.8h0M250.1 219.1h0M204.7 223.2h0M413.0 287.8h0M152.3 236.8h0M238.4 199.1h0M537.8 300.9h0M220.1 302.8h0M238.1 225.2h0M399.8 201.4h0M482.9 286.6h0M151.6 196.7h0M199.3 256.1h0M158.7 246.3h0M490.6 277.9h0M208.8 284.1h0M412.3 228.0h0M452.5 232.4h0M429.3 248.3h0M352.7 215.9h0M255.2 217.3h0M504.5 300.1h0M196.2 251.7h0M298.5 258.4h0M554.7 320.3h0M209.9 213.7h0M343.6 291.1h0M135.5 281.4h0M400.5 187.2h0M494.3 359.6h0M464.4 321.8h0M386.4 287.3h0M308.1 277.9h0M482.8 262.2h0M523.5 303.6h0M539.7 340.7h0M480.5 298.4h0M260.4 315.7h0M115.1 214.0h0M436.6 295.3h0M129.3 201.3h0M453.4 294.1h0M327.8 275.7h0M345.7 234.7h0M303.1 282.8h0M373.5 245.2h0M538.2 322.1h0M351.0 204.1h0M382.4 309.0h0M433.9 304.7h0M493.3 315.4h0M182.1 229.1h0M368.3 194.2h0M267.2 302.3h0M224.2 227.1h0M263.6 294.7h0M535.3 316.8h0M264.4 203.1h0M360.6 197.8h0M391.0 242.2h0M453.7 254.9h0M414.4 294.0h0M202.2 238.0h0M401.2 219.4h0M139.4 221.3h0M125.2 175.8h0M186.6 261.1h0M306.6 222.2h0M491.9 256.3h0M130.9 189.0h0M381.2 303.4h0M374.2 231.5h0M523.7 255.6h0M194.3 308.2h0M394.7 230.6h0M498.1 353.9h0M497.6 352.5h0M289.0 314.4h0M257.8 248.1h0M415.1 227.9h0M402.2 184.0h0M364.1 199.1h0M181.4 286.0h0M388.9 221.0h0M239.9 236.1h0M380.1 279.6h0M140.5 205.2h0M192.0 200.8h0M538.6 282.4h0M414.9 267.1h0M343.6 210.9h0M407.7 239.7h0M417.7 294.9h0M501.0 283.7h0M461.9 327.0h0M477.3 299.8h0M460.4 339.3h0M454.4 258.1h0M230.2 268.3h0M262.6 239.2h0M522.8 277.3h0M532.3 268.7h0M269.3 215.5h0M208.0 232.8h0M415.2 256.9h0M359.1 220.0h0M256.8 289.6h0M137.9 241.9h0M414.9 294.3h0M400.4 279.2h0M295.8 328.6h0M520.1 291.0h0M408.5 198.7h0M317.6 238.7h0M370.0 257.8h0M295.7 317.9h0M301.2 313.4h0M133.9 235.2h0M219.9 221.1h0M328.7 247.7h0M219.7 288.2h0M385.6 271.1h0M111.5 209.6h0M475.2 309.6h0M354.5 191.2h0M334.8 229.5h0M158.9 230.8h0M240.0 210.5h0M206.4 265.0h0M300.7 317.9h0M292.9 294.2h0M199.3 191.8h0M219.6 283.2h0M463.2 299.5h0M507.9 352.8h0M404.3 208.8h0M437.4 239.8h0M408.8 270.3h0M425.4 255.6h0M231.0 247.6h0M240.9 284.7h0M223.6 298.2h0M267.1 299.3h0M261.0 318.1h0M414.6 273.8h0M291.3 336.4h0M475.4 289.8h0M487.4 248.1h0M135.5 274.7h0M327.2 192.9h0M497.6 265.8h0M237.2 243.1h0M316.1 241.1h0M290.0 237.5h0M518.4 284.7h0M282.2 193.8h0M403.1 241.2h0M110.2 176.2h0M198.4 264.8h0M132.8 227.5h0M518.0 297.5h0M422.8 258.9h0M507.8 343.6h0M429.3 312.8h0M491.3 254.5h0M302.5 317.5h0M490.5 318.1h0M223.5 266.3h0M495.3 316.3h0M514.5 262.2h0M499.4 322.5h0M295.7 247.6h0M511.7 338.1h0M270.9 209.4h0M371.6 250.6h0M292.8 249.0h0M487.9 254.4h0M516.9 259.0h0M453.4 325.2h0M325.1 242.2h0M188.4 211.5h0M389.9 237.7h0M363.0 201.8h0M290.5 284.8h0M216.3 307.4h0M219.7 275.4h0M332.9 283.6h0M500.8 296.2h0M165.6 198.5h0M466.9 334.6h0M376.4 286.5h0M525.7 253.9h0M492.7 325.9h0M518.7 294.8h0M259.5 271.1h0M464.3 334.7h0M469.2 275.2h0M513.1 297.2h0M269.3 269.9h0M408.5 207.1h0M398.3 221.2h0M267.4 246.0h0M308.7 269.3h0M520.8 285.1h0M157.8 203.9h0M110.8 193.9h0M542.5 323.2h0M197.2 226.4h0M400.9 269.6h0M296.8 287.1h0M291.8 324.5h0M531.6 305.8h0M140.7 208.8h0M272.0 215.1h0M316.9 265.2h0M148.2 189.5h0M534.8 241.2h0M527.8 289.5h0M290.5 277.1h0M451.8 318.9h0M536.3 352.4h0M245.4 215.5h0M182.8 290.5h0M309.9 226.9h0M482.7 241.0h0M224.6 279.5h0M494.0 347.5h0M187.6 293.3h0M140.1 260.7h0M210.2 242.0h0M466.0 371.1h0M329.7 199.2h0M163.9 222.0h0M391.9 226.6h0M201.1 293.8h0M513.5 285.5h0M376.7 249.1h0M322.9 235.5h0M263.3 208.9h0M193.4 233.0h0M443.3 263.3h0M191.2 296.8h0M516.5 299.8h0M220.5 237.7h0M308.8 248.6h0M260.3 261.8h0M297.0 247.1h0M341.7 225.0h0M265.0 286.3h0M380.5 302.5h0M123.5 199.7h0M301.8 280.9h0M374.7 293.4h0M274.7 176.1h0M110.9 246.9h0M223.7 232.4h0M245.7 210.0h0M426.1 277.1h0M507.1 286.6h0M540.9 343.8h0M497.0 292.1h0M194.4 202.7h0M401.3 217.7h0M187.6 228.3h0M392.9 247.5h0M441.6 296.7h0M440.2 231.8h0M453.8 331.4h0M491.2 330.2h0M455.0 339.4h0M151.5 242.6h0M474.2 269.9h0M552.4 318.5h0M243.1 197.2h0M430.1 252.3h0M452.6 282.8h0M446.1 238.0h0M530.2 303.2h0M375.4 251.5h0M440.4 296.6h0M261.8 261.7h0M445.1 254.3h0M190.4 268.2h0M137.4 261.3h0M456.5 275.9h0M330.5 202.8h0M135.2 241.3h0M440.5 236.4h0M504.8 287.3h0M311.5 298.0h0M180.1 240.5h0M288.6 286.8h0M531.7 284.6h0M421.5 273.5h0M540.9 353.5h0M405.5 207.6h0M289.0 320.8h0M354.1 173.3h0M184.0 291.3h0M491.5 339.0h0M337.4 237.7h0M215.2 242.1h0M400.9 257.0h0M295.0 266.4h0M232.1 235.0h0M448.2 305.8h0M309.1 225.6h0M468.5 346.0h0M233.1 232.2h0M265.4 254.3h0M182.1 288.7h0M294.3 266.9h0M430.7 298.4h0M162.5 241.7h0M255.6 226.1h0M311.8 223.7h0M203.2 222.6h0M375.7 262.3h0M475.8 290.3h0M199.9 278.7h0M396.1 210.3h0M159.2 260.1h0M455.4 280.8h0M388.9 220.8h0M345.9 307.7h0M280.0 260.4h0M154.3 252.1h0M313.8 286.9h0M400.9 266.5h0M398.4 224.0h0M431.6 292.4h0M328.2 204.5h0M178.5 289.5h0M541.5 357.6h0M298.3 343.0h0M265.6 205.7h0M462.6 298.3h0M154.5 239.2h0M467.0 347.3h0M160.2 247.4h0M293.2 324.0h0M156.3 204.5h0M420.5 323.5h0M367.9 231.9h0M315.6 275.9h0M256.5 281.1h0M135.2 286.0h0M288.3 312.1h0M134.2 223.0h0M127.1 202.3h0M251.5 295.9h0M226.4 279.2h0M460.4 359.1h0M396.8 213.3h0M205.3 208.6h0M145.4 200.7h0M466.8 353.6h0M330.2 198.8h0M411.0 222.3h0M535.4 344.2h0M292.6 333.7h0M310.8 243.4h0M186.8 306.9h0M144.9 218.6h0M414.1 286.0h0M423.5 255.0h0M342.0 297.0h0M525.2 243.8h0M364.3 184.7h0M442.4 296.8h0M327.0 284.1h0M237.2 268.4h0M288.3 274.9h0M437.6 292.7h0M262.9 254.4h0M107.3 214.2h0M229.7 303.9h0M244.5 245.6h0M368.3 206.1h0M182.1 283.8h0M263.7 226.5h0M234.5 279.1h0M497.6 339.0h0M145.8 220.7h0M343.4 253.3h0M444.8 250.2h0M512.5 272.5h0M165.6 233.9h0M498.7 287.1h0M300.9 280.7h0M121.0 237.8h0M409.3 194.9h0M299.1 302.1h0M539.2 280.9h0M289.2 213.5h0M327.3 282.9h0M379.4 287.3h0M285.9 208.1h0M150.9 190.4h0M224.6 294.0h0M154.9 249.8h0M516.1 327.9h0M538.0 255.6h0M270.2 230.4h0M137.8 264.6h0M203.0 271.6h0M454.7 313.4h0M495.1 280.8h0M132.6 223.0h0M315.5 272.1h0M470.8 334.2h0M138.3 237.7h0M183.2 268.1h0M268.3 278.0h0M453.7 257.8h0M518.3 333.6h0M155.7 250.0h0M261.7 264.3h0M379.6 271.6h0M109.4 172.5h0M127.2 171.4h0M200.4 233.5h0M322.1 274.7h0M120.4 249.6h0M213.9 234.9h0M187.2 300.8h0M465.8 315.5h0M325.1 214.3h0M457.7 347.6h0M359.9 176.2h0M281.8 234.9h0M545.1 367.3h0M427.8 282.5h0M318.1 234.4h0M480.2 274.3h0M518.8 312.1h0M283.6 206.7h0M305.0 236.7h0M218.5 333.4h0M414.6 303.0h0M231.7 294.8h0M243.3 234.0h0M457.6 286.0h0M210.5 231.9h0M540.6 327.5h0M181.5 279.4h0M413.7 267.1h0M111.4 184.0h0M399.3 270.0h0M261.0 233.8h0M347.3 229.4h0M439.9 248.2h0M301.7 250.0h0M390.1 296.0h0M117.8 215.8h0M515.5 280.9h0M361.2 191.2h0M197.8 253.1h0M533.6 232.9h0M230.6 266.0h0M457.7 344.7h0M153.8 193.2h0M269.9 198.5h0M404.6 214.4h0M132.5 233.4h0M523.4 308.9h0M418.9 288.8h0M520.1 244.9h0M532.2 298.2h0M188.9 253.3h0M148.3 192.9h0M436.9 245.9h0M476.6 293.5h0M362.4 195.6h0M201.5 269.7h0M139.7 219.0h0M351.7 234.5h0M139.4 233.0h0M377.8 275.3h0M242.2 277.3h0M266.8 224.4h0M310.9 278.7h0M548.4 338.8h0M450.2 249.5h0M239.1 195.5h0M465.0 318.3h0M485.9 236.4h0M118.2 251.0h0M395.9 253.4h0M478.0 301.5h0M544.6 358.2h0M206.6 282.7h0M263.3 250.2h0M410.7 315.5h0M243.4 203.7h0M536.1 263.0h0M379.2 296.4h0M411.4 284.8h0M548.5 313.9h0M156.6 247.6h0M548.9 356.1h0M227.4 306.6h0M491.7 331.1h0M463.1 320.1h0M413.7 278.9h0M385.2 280.3h0M142.3 265.0h0M331.0 231.4h0M140.1 253.3h0M211.4 262.2h0M483.9 274.4h0M246.0 235.4h0M230.4 287.7h0M183.3 295.5h0M207.3 294.2h0M348.0 237.8h0M442.1 235.9h0M457.7 298.5h0M534.0 341.9h0M204.1 269.4h0M200.7 232.8h0M319.1 282.9h0M496.7 342.0h0M111.3 182.7h0M343.3 210.0h0M257.4 220.7h0M455.8 305.6h0M183.3 298.2h0M350.4 223.4h0M429.8 314.2h0M296.2 332.8h0M501.7 292.3h0M463.3 290.8h0M260.0 296.3h0M199.7 261.3h0M407.4 220.7h0M404.1 235.3h0M237.3 220.3h0M421.9 256.7h0M115.6 209.5h0M363.4 193.8h0M259.9 249.9h0M416.7 267.0h0M491.1 317.5h0M186.6 257.9h0M199.5 259.7h0M327.0 198.2h0M453.1 243.5h0M224.1 224.3h0M106.8 246.2h0M403.9 258.3h0M231.5 290.9h0M491.4 332.0h0M438.1 237.5h0M288.5 323.2h0M368.0 190.9h0M196.7 257.4h0M492.9 313.7h0M141.7 252.8h0M239.3 203.3h0M195.5 187.1h0M491.9 310.3h0M501.7 324.1h0M520.1 253.7h0M333.2 231.9h0M140.4 208.0h0M204.6 276.1h0M406.1 239.9h0M237.0 284.7h0M432.8 242.1h0M330.5 283.6h0M244.8 241.0h0M280.9 248.3h0M540.0 265.2h0M364.5 219.1h0M213.9 230.7h0M389.8 258.0h0M371.8 278.5h0M370.6 251.2h0M554.7 312.8h0M319.4 238.3h0M310.7 305.5h0M141.2 265.3h0M355.3 207.4h0M140.9 252.3h0M309.9 289.1h0M460.2 357.4h0M262.6 268.9h0M526.7 265.2h0M298.3 328.8h0M359.1 184.1h0M457.5 353.5h0M397.7 217.7h0M436.8 250.9h0M470.0 348.3h0M149.1 241.8h0M338.4 218.9h0M225.8 299.0h0M458.9 320.5h0M265.3 260.0h0M307.3 234.7h0M337.2 253.5h0M400.6 271.9h0M397.7 272.3h0M478.2 278.9h0M150.1 234.3h0M198.5 218.5h0M252.0 298.9h0M238.4 218.3h0M330.3 238.0h0M489.1 277.4h0M284.2 212.3h0M153.4 197.9h0M483.2 240.3h0M467.0 376.6h0M375.8 237.1h0M421.9 283.6h0M131.4 219.3h0M394.4 265.0h0M320.6 256.6h0M460.3 268.3h0M233.9 239.9h0M389.6 293.3h0M456.7 351.0h0M226.6 288.6h0M151.2 262.5h0M454.4 319.0h0M272.1 192.4h0M479.4 253.0h0M292.4 285.9h0M227.6 279.0h0M214.7 327.7h0M529.5 296.9h0M502.7 331.9h0M133.8 238.2h0M141.3 264.6h0M241.7 252.5h0M294.7 256.3h0M140.6 271.2h0M267.1 240.4h0M536.6 259.9h0M432.4 246.1h0M253.8 209.6h0M119.0 192.9h0M441.6 251.2h0M224.8 248.1h0M413.9 258.0h0M471.1 309.1h0M183.0 296.4h0M331.2 256.0h0M225.7 265.4h0M131.8 280.3h0M439.7 215.7h0M383.9 250.4h0M335.0 282.6h0M216.0 265.6h0M545.6 352.9h0M118.3 186.0h0M139.4 274.0h0M554.0 320.5h0M417.7 270.0h0M372.3 282.1h0M216.7 242.5h0M463.2 267.7h0M300.4 315.0h0M422.4 326.0h0M554.2 311.3h0M144.1 254.9h0M317.2 274.1h0M419.5 287.3h0M215.3 277.3h0M316.8 229.4h0M266.3 213.9h0M218.2 290.9h0M441.1 215.9h0M300.7 267.7h0M160.8 241.6h0M490.8 259.5h0M192.3 204.8h0M443.2 299.9h0M500.2 326.9h0M448.2 262.1h0M500.4 328.6h0M358.2 172.2h0M127.1 222.4h0M331.4 196.7h0M438.1 242.3h0M510.4 320.9h0M248.7 278.5h0M406.1 191.7h0M188.1 226.3h0M239.4 246.2h0M348.7 221.9h0M114.0 239.0h0M202.5 225.4h0M213.5 277.9h0M358.1 190.9h0M273.5 228.7h0M341.7 208.0h0M497.9 313.1h0M337.9 239.8h0M544.5 350.0h0M287.4 280.6h0M235.6 243.8h0M192.5 293.5h0M424.5 281.5h0M483.6 265.4h0M263.1 243.2h0M545.0 358.7h0M358.5 180.0h0M114.4 203.6h0M480.0 269.0h0M333.4 261.8h0M522.1 236.5h0M399.0 278.8h0M406.0 198.1h0M187.4 265.6h0M439.3 295.8h0M455.0 328.7h0M320.3 259.9h0M360.7 171.9h0M511.2 324.1h0M393.3 248.9h0M296.2 318.1h0M404.5 198.0h0M127.7 175.4h0M537.0 258.5h0M375.1 272.3h0M134.2 275.1h0M547.6 362.1h0M245.1 229.5h0M455.2 303.4h0M417.9 284.5h0M409.8 226.4h0M260.2 231.3h0M538.9 271.5h0M509.7 340.8h0M434.1 293.4h0M450.6 325.5h0M441.6 236.8h0M198.9 227.9h0M299.1 304.9h0M162.6 208.8h0M398.1 243.9h0M547.8 326.4h0M110.2 176.6h0M114.6 184.9h0M503.3 359.2h0M260.6 245.7h0M297.2 342.2h0M261.0 282.4h0M286.8 275.4h0M239.4 250.9h0M334.5 226.1h0M392.3 269.4h0M395.3 200.5h0M522.8 303.3h0M547.8 365.4h0M193.5 292.9h0M342.2 278.8h0M451.0 310.6h0M532.5 260.0h0M380.5 258.9h0M196.6 192.5h0M427.8 282.5h0M267.7 269.9h0M220.7 294.1h0M398.3 229.1h0M398.6 198.9h0M247.0 220.9h0M461.1 300.7h0M204.3 280.2h0M297.8 312.8h0M217.5 244.8h0M295.3 326.9h0M155.8 261.1h0M152.2 243.0h0M212.2 221.0h0M427.6 248.4h0M490.2 336.9h0M183.3 295.9h0M199.6 213.4h0M122.6 174.7h0M221.4 324.0h0M251.6 217.2h0M440.7 291.5h0M483.3 289.3h0M446.7 302.5h0M338.6 299.1h0M294.8 337.4h0M267.1 299.3h0M420.1 280.5h0M283.7 229.4h0M499.2 320.2h0M455.8 255.2h0M257.3 256.7h0M416.5 260.9h0M436.7 266.1h0M186.8 227.5h0M470.7 326.8h0M393.0 226.1h0M183.7 303.3h0M516.1 319.5h0M235.7 242.2h0M230.6 299.4h0M207.7 250.9h0M191.0 232.7h0M215.0 238.7h0M207.9 219.5h0M264.8 265.5h0M251.6 309.1h0M458.2 329.3h0M382.8 253.6h0M288.1 285.0h0M272.3 251.4h0M343.9 223.6h0M288.5 330.5h0M397.6 266.3h0M390.0 235.5h0M317.4 282.6h0M409.5 202.1h0M218.2 264.6h0M530.9 261.6h0M493.5 348.7h0M531.9 280.5h0M261.3 314.4h0M465.3 333.0h0M109.2 171.1h0M336.6 218.1h0M366.2 227.2h0M188.0 225.8h0M434.4 269.2h0M443.9 272.5h0M152.0 236.8h0M405.9 205.9h0M293.2 296.6h0M259.9 285.8h0M115.6 239.9h0M104.7 225.9h0M248.2 220.0h0M298.6 238.7h0M194.1 252.7h0M287.7 276.4h0M118.1 249.2h0M115.1 253.6h0M543.5 370.7h0M134.0 257.2h0M264.1 235.5h0M292.1 321.5h0M327.2 227.3h0M411.4 226.0h0M209.8 257.2h0M195.0 303.0h0M503.2 317.7h0M538.2 326.6h0M515.7 327.8h0M340.5 215.5h0M301.5 253.7h0M243.8 275.7h0M223.7 295.6h0M381.0 264.0h0M283.7 252.1h0M199.4 296.8h0M342.4 218.1h0M209.2 242.5h0M532.2 238.8h0M523.8 256.4h0M428.8 277.3h0M209.3 249.2h0M327.7 210.6h0M235.2 228.5h0M332.2 238.7h0M372.3 225.4h0M319.2 262.9h0M380.6 222.8h0M113.7 210.9h0M132.0 253.3h0M239.6 201.7h0M493.3 338.3h0M179.7 291.0h0M166.3 234.3h0M288.6 316.0h0M414.1 315.0h0M384.2 282.1h0M513.8 280.3h0M497.4 293.5h0M551.4 344.0h0M335.8 227.7h0M259.9 265.5h0M298.9 323.0h0M137.6 254.9h0M116.6 208.3h0M322.7 244.0h0M203.3 257.1h0M328.1 250.9h0M124.4 214.0h0M461.1 322.7h0M467.2 333.1h0M412.6 283.3h0M407.5 223.0h0M460.2 337.5h0M539.7 356.5h0M144.6 227.6h0M287.7 227.5h0M291.3 327.6h0M473.6 303.8h0M339.3 293.4h0M160.7 232.4h0M196.0 210.1h0M106.6 201.3h0M197.0 294.4h0M160.4 229.8h0M346.7 254.5h0M266.8 311.8h0M204.4 211.8h0M269.2 227.7h0M374.3 232.8h0M518.2 298.8h0M361.6 203.4h0M341.6 301.2h0M371.9 239.4h0M183.2 232.2h0M521.1 260.3h0M372.2 271.4h0M289.1 304.8h0M498.5 311.3h0M219.4 292.9h0M393.1 211.8h0M381.0 261.5h0M397.3 253.8h0M402.0 237.4h0M372.4 256.4h0M425.7 291.7h0M515.9 275.9h0M370.2 249.4h0M292.7 323.0h0M287.4 247.6h0M265.9 315.3h0M385.8 277.8h0M490.0 288.7h0M533.6 296.3h0M314.0 227.1h0M264.1 215.7h0M499.9 341.1h0M196.8 247.7h0M299.0 272.3h0M190.7 255.1h0M547.7 353.4h0M462.5 296.3h0M133.1 262.3h0M113.3 246.5h0M433.3 306.1h0M244.6 208.0h0M163.1 203.5h0M456.5 309.1h0M336.9 231.2h0M528.0 276.1h0M196.3 302.8h0M235.9 255.2h0M484.2 305.0h0M197.9 186.1h0M164.6 202.9h0M402.8 193.9h0M456.9 315.0h0M432.0 262.8h0M388.7 279.0h0M270.2 304.6h0M321.3 263.2h0M385.4 298.8h0M464.4 355.0h0M190.2 249.9h0M243.7 285.9h0M218.1 305.2h0M543.4 380.6h0M452.2 248.8h0M494.7 284.4h0M529.5 283.9h0M276.7 244.2h0M398.2 256.9h0M191.4 228.3h0M492.1 265.7h0M415.9 276.8h0M462.9 368.8h0M435.2 258.2h0M418.8 254.4h0M286.0 234.1h0M454.3 318.9h0M490.5 326.5h0M290.6 299.4h0M157.0 256.0h0M386.6 267.3h0M142.7 200.6h0M244.9 246.2h0M192.0 231.8h0M301.7 297.0h0M267.2 201.8h0M272.8 225.0h0M210.7 208.9h0M220.8 301.4h0M457.5 363.1h0M491.7 313.5h0M510.2 325.3h0M276.6 196.5h0M152.4 200.3h0M232.1 295.1h0M113.9 243.6h0M475.3 287.7h0M494.1 320.4h0M284.1 180.3h0M398.2 271.6h0M197.7 205.4h0M520.5 288.3h0M468.3 310.9h0M382.6 292.8h0M226.1 226.9h0M138.4 269.9h0M365.2 227.9h0M529.6 269.3h0M469.6 310.4h0M294.5 303.5h0M524.0 242.7h0M437.0 303.2h0M147.9 194.3h0M105.6 213.4h0M456.3 248.6h0M124.2 237.4h0M418.6 308.3h0M463.1 266.9h0M268.9 304.0h0M121.3 198.1h0M389.3 243.2h0M338.5 236.2h0M424.1 251.5h0M402.6 204.1h0M545.5 327.1h0M290.1 245.0h0M137.3 254.5h0M484.2 249.5h0M497.7 300.3h0M453.3 335.5h0M411.1 200.1h0M542.6 357.1h0M526.8 311.3h0M130.1 243.1h0M311.9 253.8h0M495.0 286.0h0M391.7 306.2h0M431.6 300.7h0M290.3 341.9h0M514.0 305.6h0M398.2 264.0h0M131.1 245.5h0M419.7 246.3h0M410.7 316.0h0M429.4 297.2h0M375.1 268.5h0M516.6 316.8h0M340.0 216.8h0M137.8 278.9h0M220.8 263.4h0M123.5 204.2h0M411.3 219.2h0M401.1 201.3h0M131.3 237.1h0M451.8 282.7h0M266.6 308.1h0M313.5 276.6h0M346.6 254.8h0M451.1 329.5h0M108.2 173.9h0M294.6 246.7h0M194.5 253.1h0M420.3 302.1h0M268.4 212.7h0M253.7 285.7h0M211.0 296.6h0M396.6 204.4h0M543.6 377.3h0M470.5 313.2h0M359.0 186.1h0M332.0 258.3h0M333.1 234.7h0M162.3 258.4h0M475.6 262.4h0M205.9 217.8h0M261.8 313.9h0M345.5 310.6h0M274.0 187.0h0M452.0 269.4h0M461.7 350.3h0M192.4 248.5h0M549.4 326.6h0M302.2 252.9h0M540.6 277.2h0M156.6 205.6h0M118.4 181.3h0M394.7 201.4h0M323.6 245.8h0M441.1 273.6h0M186.7 309.9h0M426.2 320.3h0M326.9 245.8h0M521.3 274.1h0M318.9 238.2h0M163.1 218.7h0M180.7 224.6h0M378.9 242.5h0M481.2 263.3h0M243.8 224.6h0M415.9 308.5h0M274.7 185.4h0M230.8 248.3h0M434.7 305.5h0M275.8 230.1h0M478.6 299.4h0M214.7 232.8h0M312.6 227.9h0M134.7 226.8h0M322.3 250.2h0M398.6 189.0h0M199.2 254.4h0M485.2 281.3h0M497.2 316.1h0M501.5 301.7h0M224.3 272.0h0M303.7 246.6h0M330.1 239.7h0M356.3 213.0h0M310.2 249.5h0M327.4 274.0h0M300.7 336.3h0M265.1 259.0h0M189.5 263.4h0M506.2 357.4h0M345.6 229.6h0M329.5 257.4h0M197.0 296.8h0M343.4 250.3h0M365.2 179.0h0M504.3 299.7h0M492.2 279.9h0M542.8 318.9h0M543.3 355.3h0M440.3 250.3h0M387.4 249.9h0M266.6 308.3h0M337.7 216.1h0M457.1 276.7h0M418.7 263.6h0M522.1 243.9h0M297.3 318.3h0M258.6 290.5h0M231.0 248.2h0M393.3 208.9h0M514.2 276.3h0M471.8 289.8h0M105.4 190.7h0M460.9 346.5h0M501.1 314.8h0M484.1 278.4h0M278.0 239.7h0M298.9 288.7h0M312.7 257.1h0M489.3 327.5h0M182.0 230.2h0M188.5 285.7h0M197.6 195.5h0M391.9 219.6h0M271.8 220.1h0M523.3 262.5h0M123.0 194.6h0M124.5 220.5h0M482.3 291.8h0M141.5 225.0h0M308.5 276.8h0M244.0 248.4h0M130.3 242.1h0M543.1 348.4h0M544.5 371.4h0M215.3 285.0h0M304.6 265.5h0M285.5 207.5h0M205.7 256.7h0M543.6 313.8h0M550.1 347.4h0M234.4 232.0h0M371.8 246.1h0M122.3 198.7h0M134.5 255.8h0M158.3 193.5h0M361.0 190.5h0M427.8 258.0h0M227.1 238.6h0M134.1 231.7h0M550.0 333.2h0M378.0 294.3h0M203.7 264.6h0M243.7 204.3h0M237.4 208.1h0M452.7 267.1h0M471.5 336.4h0M335.4 246.8h0M294.4 281.8h0M399.5 219.6h0M109.4 177.8h0M469.5 333.4h0M451.3 246.1h0M401.8 222.8h0M499.6 348.6h0M373.5 249.7h0M238.7 191.8h0M293.6 249.3h0M241.7 260.0h0M254.3 301.6h0M239.2 228.8h0M502.8 343.0h0M363.1 204.1h0M423.8 260.4h0M391.2 231.8h0M408.2 263.3h0M415.3 272.3h0M457.2 312.9h0M290.3 282.6h0M260.1 287.6h0M468.6 350.0h0M440.0 307.3h0M231.5 258.4h0M308.2 291.0h0M137.3 236.3h0M297.8 292.3h0M457.7 305.0h0M362.3 210.6h0M486.1 276.5h0M112.9 172.8h0M163.4 222.9h0M284.9 226.2h0M156.6 258.9h0M298.0 317.6h0M527.9 275.2h0M225.7 270.3h0M184.6 221.7h0M448.3 315.7h0M475.6 288.3h0M267.8 216.8h0M284.6 204.8h0M455.9 322.9h0M142.8 187.3h0M497.2 324.2h0M293.6 280.9h0M166.3 212.4h0M180.5 282.5h0M191.0 269.5h0M381.8 281.4h0M161.2 259.4h0M525.4 282.0h0M505.4 293.0h0M120.9 179.9h0M465.2 339.9h0M338.2 217.5h0M498.9 313.4h0M280.6 181.9h0M337.3 269.6h0M517.4 261.5h0M112.7 242.0h0M493.6 331.7h0M388.0 239.1h0M389.8 230.3h0M413.1 221.6h0M355.6 182.7h0M131.0 255.1h0M294.9 279.5h0M288.7 233.9h0M419.4 274.7h0M502.8 319.3h0M391.8 218.3h0M140.1 193.1h0M195.0 216.8h0M246.0 192.7h0M216.7 287.6h0M505.7 334.1h0M396.5 212.5h0M445.5 254.7h0M472.7 316.9h0M409.5 233.8h0M256.9 287.7h0M438.4 217.0h0M401.9 253.4h0M215.6 273.4h0M279.6 253.5h0M463.8 369.5h0M191.6 258.2h0M289.4 255.7h0M401.1 217.4h0M491.9 322.9h0M291.5 325.8h0M149.6 235.8h0M161.5 234.6h0M165.2 195.1h0M379.1 277.5h0M355.2 207.4h0M182.7 256.5h0M158.8 254.3h0M208.6 285.1h0M494.9 335.4h0M334.5 207.7h0M426.3 304.6h0M236.9 251.5h0M197.2 252.8h0M132.6 236.3h0M484.4 280.0h0M503.4 331.9h0M450.5 246.6h0M508.7 315.2h0M287.2 296.4h0M193.0 196.0h0M487.5 258.8h0M512.7 270.0h0M300.7 277.8h0M507.1 310.3h0M401.7 268.6h0M290.6 309.0h0M425.0 302.4h0M499.6 272.5h0M242.5 223.8h0M400.7 225.5h0M549.9 344.4h0M116.1 238.2h0M223.2 262.7h0M535.7 328.0h0M375.6 220.7h0M348.9 244.8h0M411.7 300.3h0M335.5 203.7h0M202.6 307.6h0M126.9 242.9h0M298.7 293.0h0M381.0 247.1h0M544.0 370.2h0M451.0 255.9h0M206.4 295.1h0M424.9 304.5h0M317.9 224.1h0M163.7 253.3h0M423.3 311.4h0M342.4 266.8h0M341.2 278.1h0M478.8 298.2h0M284.3 244.8h0M472.3 277.1h0M247.5 193.3h0M370.2 302.9h0M542.2 296.3h0M541.8 353.8h0M325.6 273.7h0M242.7 240.0h0M507.3 302.4h0M344.3 215.5h0M548.1 366.3h0M252.2 210.3h0M495.4 286.7h0M538.2 284.0h0M428.5 308.2h0M109.0 172.8h0M329.8 252.3h0M264.7 261.4h0M433.6 297.9h0M162.1 236.7h0M415.6 271.8h0M352.7 244.3h0M274.3 231.1h0M225.4 237.7h0M492.1 276.0h0M265.8 238.9h0M254.5 264.3h0M195.1 213.7h0M355.1 204.2h0M326.0 283.5h0M185.5 296.9h0M337.3 259.3h0M235.0 274.7h0M164.2 250.2h0M320.4 283.4h0M187.7 283.3h0M456.9 278.6h0M502.1 362.7h0M365.4 193.9h0M451.0 259.0h0M548.6 367.2h0M444.7 309.1h0M204.0 249.0h0M533.1 254.8h0M109.9 184.4h0M310.9 280.2h0M392.6 246.4h0M419.1 310.4h0M119.2 230.5h0M300.7 280.3h0M519.9 253.3h0M198.3 238.1h0M454.4 255.9h0M535.4 339.3h0M246.0 247.0h0M207.7 221.0h0M433.4 264.0h0M192.4 218.1h0M125.6 74.6h0M124.6 117.6h0M130.6 120.6h0M250.8 128.6h0M360.6 95.6h0M364.6 118.6h0M360.6 123.6h0M366.6 125.6h0M366.6 129.6h0M140.3 173.5h0M146.9 175.3h0M164.7 172.5h0M155.3 154.7h0M161.0 148.5h0M156.7 143.5h0M180.7 218.5h0M197.5 148.5h0M196.6 161.3h0M206.9 159.4h0M198.5 168.8h0M206.9 171.6h0M191.9 178.7h0M208.8 185.7h0M215.3 175.3h0M187.2 202.5h0M109.4 145.3h0M114.7 149.5h0M120.7 146.7h0M126.8 148.5h0M131.9 158.8h0M114.1 156.6h0M119.7 161.3h0M106.6 160.3h0M105.7 166.9h0M217.6 175.0h0M217.6 192.2h0M222.8 196.9h0M226.6 199.7h0M222.8 206.3h0M227.5 211.9h0M226.6 218.5h0M236.9 177.6h0M243.5 177.6h0M248.2 177.6h0M252.8 177.6h0M243.5 185.7h0M251.0 161.3h0M255.7 158.5h0M251.9 190.3h0M256.6 194.5h0M277.2 142.5h0M274.4 145.7h0M282.9 148.5h0M275.7 155.3h0M275.4 163.2h0M284.7 167.5h0M279.1 169.7h0M265.6 182.5h0M288.5 180.6h0M285.7 184.7h0M330.7 140.7h0M326.9 168.8h0M329.7 180.6h0M326.0 186.6h0M308.2 184.7h0M318.5 191.3h0M309.1 197.5h0M312.9 200.7h0M315.7 206.3h0M301.6 216.6h0M366.9 130.3h0M363.9 136.9h0M353.7 143.5h0M364.8 143.1h0M366.9 148.5h0M353.7 150.6h0M364.4 154.3h0M368.7 157.5h0M347.5 158.8h0M353.7 158.5h0M360.7 160.3h0M353.7 162.2h0M366.9 163.7h0M354.1 168.8h0M362.5 169.7h0M366.9 170.7h0M376.6 181.5h0M380.4 202.5h0M337.6 187.5h0M337.2 198.8h0M343.8 196.9h0M347.5 204.4h0M404.7 133.5h0M404.7 143.5h0M399.7 153.2h0M404.7 152.5h0M406.6 156.6h0M405.7 163.2h0M403.8 159.4h0M404.7 169.7h0M402.9 170.7h0M402.9 176.3h0M405.7 180.0h0M420.7 205.3h0M412.2 212.8h0M421.6 216.6h0M442.2 181.3h0M455.4 142.5h0M455.4 178.2h0M432.9 206.3h0M437.5 205.3h0M443.2 205.3h0M446.0 207.2h0M447.9 214.7h0M456.9 142.5h0M457.6 178.7h0M484.8 182.8h0M483.9 190.7h0M523.8 198.8h0M488.7 205.7h0M489.7 212.8h0M457.6 209.5h0M456.9 212.8h0M486.9 220.3h0M524.7 220.3h0M105.7 264.4h0M103.8 278.5h0M114.1 289.7h0M116.9 267.2h0M117.8 274.7h0M123.5 279.4h0M125.3 264.4h0M129.1 273.8h0M131.0 301.4h0M138.5 306.6h0M144.1 279.4h0M157.2 274.7h0M162.8 272.9h0M163.8 282.2h0M166.6 265.4h0M172.2 265.4h0M172.2 278.5h0M123.5 246.6h0M105.7 251.3h0M112.2 255.0h0M280.0 267.2h0M287.5 267.2h0M282.9 278.5h0M322.2 291.6h0M326.9 299.1h0M327.9 286.0h0M333.5 284.1h0M356.0 248.5h0M359.7 257.9h0M363.5 265.4h0M361.6 285.0h0M420.7 234.4h0M419.7 238.2h0M423.5 251.3h0M429.1 242.8h0M401.0 286.9h0M406.6 294.4h0M457.2 226.9h0M461.0 259.7h0M486.9 221.8h0M481.6 226.9h0M488.7 228.8h0M480.7 232.5h0M473.7 240.6h0M524.7 221.8h0M530.4 224.5h0M535.0 223.2h0M537.9 230.7h0M541.6 245.7h0M541.6 252.2h0M517.2 244.7h0M514.4 254.1h0M551.9 265.4h0M550.0 274.7h0M551.0 282.2h0M551.9 287.9h0M553.8 292.5h0M552.9 299.1h0M551.0 305.7h0M549.1 308.5h0M134.7 320.7h0M178.8 329.7h0M182.5 352.5h0M181.6 311.9h0M183.5 315.0h0M184.4 318.8h0M198.5 312.6h0M200.7 319.7h0M209.7 311.3h0M214.4 312.2h0M214.4 321.2h0M214.4 330.6h0M214.4 334.7h0M214.4 353.5h0M214.4 357.2h0M230.3 319.7h0M239.7 317.9h0M224.7 336.6h0M227.5 339.4h0M225.7 345.0h0M223.8 346.9h0M218.2 350.7h0M217.2 357.2h0M224.7 353.9h0M225.7 375.6h0M225.7 379.7h0M225.1 388.2h0M229.4 311.3h0M243.5 311.3h0M258.5 327.2h0M266.0 331.4h0M263.7 336.6h0M259.8 346.5h0M259.8 362.9h0M257.5 320.7h0M290.4 347.9h0M296.9 350.7h0M293.7 358.7h0M290.0 365.7h0M295.0 364.7h0M290.4 366.6h0M302.5 341.3h0M305.0 324.4h0M307.2 331.0h0M311.0 331.9h0M310.0 348.8h0M310.0 353.9h0M305.4 315.0h0M320.7 312.6h0M341.9 310.4h0M338.7 320.7h0M341.9 323.5h0M347.5 332.9h0M371.0 320.7h0M371.0 324.4h0M371.9 329.1h0M375.7 329.1h0M379.8 322.5h0M380.4 314.5h0M384.1 313.2h0M388.8 312.2h0M393.5 311.3h0M387.9 323.5h0M388.8 326.9h0M386.9 332.9h0M371.9 348.8h0M383.2 351.6h0M387.9 352.0h0M386.0 363.8h0M430.0 362.9h0M420.7 344.7h0M442.2 324.4h0M446.9 335.7h0M434.7 323.5h0M419.7 333.8h0M424.4 336.6h0M428.2 340.4h0M431.0 343.2h0M432.9 345.0h0M428.2 336.6h0M475.0 364.7h0M465.7 382.5h0M460.0 387.2h0M469.4 396.6h0M480.7 330.6h0M480.7 343.2h0M480.7 345.0h0M485.4 318.8h0M512.5 342.6h0M512.5 354.8h0M492.9 364.7h0M498.5 368.5h0M500.4 380.7h0M506.0 377.9h0M508.8 382.5h0M509.7 385.4h0M501.3 387.2h0M506.0 366.6h0M532.2 349.7h0M537.9 354.4h0M552.9 352.5h0M553.8 362.9h0M552.9 378.8h0M552.9 394.7h0M545.4 397.5h0M542.5 385.4h0M457.9 410.9h0M460.4 404.1h0M465.9 406.6h0M544.9 406.6h0M544.9 401.6h0"/><rect x="80" y="58" width="1" height="370" fill="#000"/><rect x="576" y="58" width="1" height="370" fill="#000"/><rect x="80" y="58" width="497" height="1" fill="#000"/><rect x="80" y="427" width="497" height="1" fill="#000"/><rect x="84" y="428" width="1" height="4.86" fill="#000"/><text x="84.60" y="447.8" text-anchor="middle" font-family="Liberation Sans, sans-serif" font-size="14" textLength="34" lengthAdjust="spacingAndGlyphs">2008</text><rect x="166" y="428" width="1" height="4.86" fill="#000"/><text x="166.60" y="447.8" text-anchor="middle" font-family="Liberation Sans, sans-serif" font-size="14" textLength="34" lengthAdjust="spacingAndGlyphs">2010</text><rect x="249" y="428" width="1" height="4.86" fill="#000"/><text x="249.60" y="447.8" text-anchor="middle" font-family="Liberation Sans, sans-serif" font-size="14" textLength="34" lengthAdjust="spacingAndGlyphs">2012</text><rect x="331" y="428" width="1" height="4.86" fill="#000"/><text x="331.60" y="447.8" text-anchor="middle" font-family="Liberation Sans, sans-serif" font-size="14" textLength="34" lengthAdjust="spacingAndGlyphs">2014</text><rect x="413" y="428" width="1" height="4.86" fill="#000"/><text x="413.60" y="447.8" text-anchor="middle" font-family="Liberation Sans, sans-serif" font-size="14" textLength="34" lengthAdjust="spacingAndGlyphs">2016</text><rect x="495" y="428" width="1" height="4.86" fill="#000"/><text x="495.60" y="447.8" text-anchor="middle" font-family="Liberation Sans, sans-serif" font-size="14" textLength="34" lengthAdjust="spacingAndGlyphs">2018</text><rect x="75.14" y="58" width="4.86" height="1" fill="#000"/><text x="69.9" y="64.00" text-anchor="end" font-family="Liberation Sans, sans-serif" font-size="14" textLength="29.0" lengthAdjust="spacingAndGlyphs">0.02</text><rect x="75.14" y="138" width="4.86" height="1" fill="#000"/><text x="69.2" y="143.00" text-anchor="end" font-family="Liberation Sans, sans-serif" font-size="14" textLength="28.4" lengthAdjust="spacingAndGlyphs">0.01</text><rect x="75.14" y="218" width="4.86" height="1" fill="#000"/><text x="70.3" y="223.00" text-anchor="end" font-family="Liberation Sans, sans-serif" font-size="14" textLength="29.0" lengthAdjust="spacingAndGlyphs">0.00</text><rect x="75.14" y="298" width="4.86" height="1" fill="#000"/><text x="69.0" y="303.00" text-anchor="end" font-family="Liberation Sans, sans-serif" font-size="14" textLength="41.0" lengthAdjust="spacingAndGlyphs">−0.01</text><rect x="75.14" y="377" width="4.86" height="1" fill="#000"/><text x="69.6" y="383.00" text-anchor="end" font-family="Liberation Sans, sans-serif" font-size="14" textLength="40.0" lengthAdjust="spacingAndGlyphs">−0.02</text><text x="328.1" y="48.9" text-anchor="middle" font-family="Liberation Sans, sans-serif" font-size="16.7" textLength="58.6" lengthAdjust="spacingAndGlyphs">P207 V</text><text transform="translate(19.9,244) rotate(-90)" text-anchor="middle" font-family="Liberation Sans, sans-serif" font-size="14" textLength="11.2" lengthAdjust="spacingAndGlyphs">m</text><rect x="377.5" y="65.5" width="192" height="25" rx="2.5" fill="#fff" fill-opacity="0.8" stroke="#d5d5d5" stroke-width="1"/><circle cx="397.5" cy="76.4" r="2.85" fill="#f00"/><text x="426" y="81.1" font-family="Liberation Sans, sans-serif" font-size="14" textLength="137" lengthAdjust="spacingAndGlyphs">repro2018a (IGS14)</text></svg></body></html>
